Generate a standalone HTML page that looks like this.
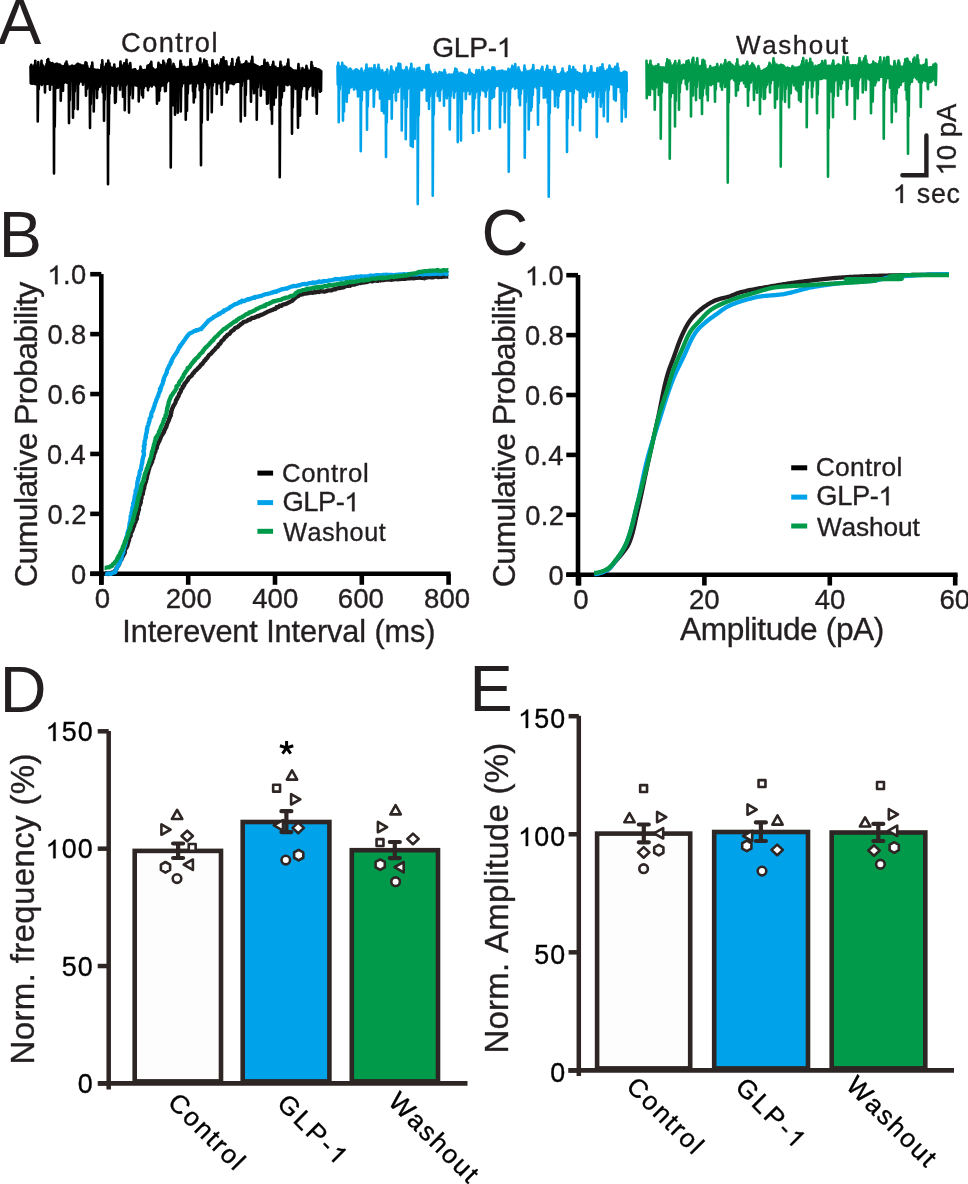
<!DOCTYPE html>
<html><head><meta charset="utf-8"><title>figure</title>
<style>
html,body{margin:0;padding:0;background:#fff;}
body{width:968px;height:1184px;overflow:hidden;}
svg{display:block;will-change:transform;}
text{font-family:"Liberation Sans",sans-serif;font-kerning:none;}
</style></head><body>
<svg width="968" height="1184" viewBox="0 0 968 1184">
<rect x="0" y="0" width="968" height="1184" fill="#ffffff"/>
<polyline points="30.5,66.48 30.75,83.22 31,83.34 31.25,64.82 31.5,66.44 31.75,83.46 32,83.59 32.25,66.38 32.5,66.42 32.75,83.65 33,83.49 33.25,66.51 33.5,67.08 33.75,83.37 34,83.42 34.25,67.93 34.5,64.86 34.75,83.72 35,83.92 35.25,60.68 35.5,64.95 35.75,84.17 36,84.14 36.25,69.85 36.5,69.81 36.75,84.12 37,83.89 37.25,69.71 37.5,65.71 37.75,121.4 38,100.44 38.25,62.17 38.5,65.52 38.75,89.19 39,83.21 39.25,69.36 39.5,68.8 39.75,83.27 40,83.35 40.25,68.41 40.5,68.32 40.75,83.3 41,82.79 41.25,64.7 41.5,60.76 41.75,84.93 42,83.57 42.25,64.67 42.5,67.35 42.75,83.39 43,83.4 43.25,65.72 43.5,67.23 43.75,83.14 44,82.99 44.25,68.98 44.5,68.54 44.75,82.83 45,92.5 45.25,67.91 45.5,67.36 45.75,84.35 46,83.77 46.25,67.07 46.5,63.94 46.75,83.48 47,83.78 47.25,60.14 47.5,63.21 47.75,83.73 48,83.37 48.25,59.05 48.5,62.79 48.75,82.86 49,82.15 49.25,64.53 49.5,62.03 49.75,81.35 50,89.74 50.25,64.23 50.5,65.06 50.75,83.88 51,81.36 51.25,63.35 51.5,64.72 51.75,80.34 52,84.57 52.25,64.57 52.5,63.04 52.75,81.53 53,80.21 53.25,64.4 53.5,65.77 53.75,80.05 54,173.5 54.25,65.94 54.5,65.16 54.75,126.77 55,101.75 55.25,64.4 55.5,64 55.75,88.37 56,82.48 56.25,63.82 56.5,63.82 56.75,81.67 57,81.34 57.25,64.23 57.5,63.82 57.75,80.68 58,87.71 58.25,65.25 58.5,65.99 58.75,83.2 59,82.64 59.25,65.11 59.5,64.66 59.75,81.44 60,81.42 60.25,64.77 60.5,65.54 60.75,100.72 61,88.99 61.25,66.6 61.5,67.72 61.75,84.34 62,83.08 62.25,67.03 62.5,66.36 62.75,90.12 63,90.7 63.25,66.15 63.5,66.28 63.75,83.14 64,81.94 64.25,66.82 64.5,67.37 64.75,81.7 65,81.65 65.25,65.25 65.5,63.25 65.75,81.94 66,82.16 66.25,64.42 66.5,61.58 66.75,82.52 67,82.67 67.25,64.28 67.5,67.38 67.75,82.62 68,82.27 68.25,67.37 68.5,67.16 68.75,81.81 69,123.1 69.25,66.74 69.5,66.53 69.75,100.27 70,88.06 70.25,66.72 70.5,67.37 70.75,81.52 71,81 71.25,66.38 71.5,65.78 71.75,80.99 72,80.74 72.25,65.66 72.5,65.92 72.75,80.38 73,117.7 73.25,66.21 73.5,66.23 73.75,97.15 74,108.71 74.25,66.14 74.5,66.05 74.75,91.52 75,84.56 75.25,66.24 75.5,66.46 75.75,81.6 76,80.29 76.25,65.54 76.5,64.75 76.75,79.64 77,79.51 77.25,64.14 77.5,63.78 77.75,109.23 78,91.17 78.25,63.78 78.5,64.1 78.75,83.95 79,81.05 79.25,64.44 79.5,64.71 79.75,80.03 80,80.62 80.25,64.74 80.5,65 80.75,81.13 81,81.43 81.25,65.41 81.5,66.21 81.75,81.18 82,80.6 82.25,65.99 82.5,65.69 82.75,80.16 83,84.59 83.25,65.63 83.5,66.09 83.75,82.32 84,81.54 84.25,66.91 84.5,67.78 84.75,81.52 85,82.28 85.25,64.92 85.5,62.31 85.75,82.81 86,95.7 86.25,65.3 86.5,62.75 86.75,86.47 87,88.63 87.25,65.75 87.5,68.98 87.75,85.17 88,85.88 88.25,69.63 88.5,69.34 88.75,85.1 89,85.3 89.25,68.87 89.5,68.95 89.75,90.27 90,128 90.25,69.5 90.5,70 90.75,104.2 91,91.45 91.25,69.27 91.5,65.92 91.75,84.62 92,83.54 92.25,62.58 92.5,66.09 92.75,90.53 93,86.35 93.25,69.95 93.5,69.88 93.75,111.46 94,94.94 94.25,69.44 94.5,69.47 94.75,88.29 95,85.64 95.25,69.69 95.5,70.01 95.75,84.56 96,85.01 96.25,70.07 96.5,69.99 96.75,85.59 97,98.04 97.25,69.72 97.5,69.72 97.75,89.6 98,86.18 98.25,69.96 98.5,70.06 98.75,85.45 99,86.75 99.25,70.22 99.5,70.25 99.75,86.8 100,84.73 100.25,70.03 100.5,70.07 100.75,84.07 101,83.24 101.25,69.29 101.5,64.52 101.75,83.26 102,83.57 102.25,60.25 102.5,64.45 102.75,92.12 103,86.44 103.25,67.65 103.5,68.53 103.75,84.11 104,120.7 104.25,69.06 104.5,68.09 104.75,99.82 105,88.68 105.25,67.63 105.5,66.22 105.75,83.61 106,83.99 106.25,63.79 106.5,66.28 106.75,84.07 107,84.2 107.25,68.91 107.5,64.52 107.75,84.08 108,184.2 108.25,60.49 108.5,64.78 108.75,134.2 109,107.62 109.25,66.21 109.5,63.19 109.75,93.43 110,85.85 110.25,66.49 110.5,67.73 110.75,84.36 111,83.85 111.25,67.91 111.5,68.19 111.75,84.45 112,84.99 112.25,68.28 112.5,68.38 112.75,85.4 113,85.58 113.25,68.33 113.5,67.32 113.75,85.75 114,85.59 114.25,64.52 114.5,67.08 114.75,85.19 115,102.84 115.25,68.56 115.5,69.01 115.75,102.02 116,90.74 116.25,69.6 116.5,69.69 116.75,86.2 117,84.24 117.25,69.01 117.5,68.65 117.75,83.36 118,83.18 118.25,68.54 118.5,68.74 118.75,83.17 119,82.92 119.25,68.97 119.5,68.76 119.75,82.72 120,89.72 120.25,64.97 120.5,61.61 120.75,85.26 121,83.41 121.25,64.91 121.5,65.61 121.75,83.08 122,83.11 122.25,67.15 122.5,68.36 122.75,82.81 123,96.8 123.25,68.62 123.5,65.88 123.75,88.04 124,84.5 124.25,63.36 124.5,65.88 124.75,110.3 125,94.17 125.25,67.89 125.5,67.26 125.75,85.52 126,82.41 126.25,63.97 126.5,59.86 126.75,82.94 127,83.4 127.25,63.97 127.5,66.4 127.75,83.42 128,82.73 128.25,68.59 128.5,68.71 128.75,86.52 129,112.58 129.25,68.88 129.5,65.94 129.75,94.86 130,87.68 130.25,63.01 130.5,66.11 130.75,84.9 131,84.08 131.25,69.6 131.5,69.79 131.75,84.34 132,84.62 132.25,70.04 132.5,70.3 132.75,98.3 133,88.45 133.25,69.93 133.5,69.59 133.75,84.75 134,84.94 134.25,69.26 134.5,69.24 134.75,84.91 135,84.7 135.25,69.39 135.5,70 135.75,84.95 136,85.47 136.25,70.68 136.5,71.17 136.75,85.58 137,85.5 137.25,71.79 137.5,71.68 137.75,85.24 138,85.52 138.25,71.27 138.5,70.9 138.75,101.37 139,91.8 139.25,70.96 139.5,70.99 139.75,87.87 140,87.27 140.25,68.96 140.5,66.45 140.75,87.6 141,87.4 141.25,68.78 141.5,70.61 141.75,87.06 142,95.05 142.25,70.47 142.5,70.47 142.75,88.6 143,97.5 143.25,70.47 143.5,70.34 143.75,88.03 144,84.48 144.25,70.19 144.5,70.17 144.75,85.06 145,85.46 145.25,70.15 145.5,70.02 145.75,85.53 146,85.98 146.25,69.79 146.5,69.82 146.75,84.66 147,83.89 147.25,67.65 147.5,65.86 147.75,83.27 148,90.22 148.25,67.18 148.5,65.2 148.75,87.15 149,84.58 149.25,67.21 149.5,66.41 149.75,84.25 150,84.62 150.25,63.68 150.5,65.33 150.75,84.98 151,84.95 151.25,61.69 151.5,65.51 151.75,86.46 152,85.02 152.25,67.99 152.5,68.06 152.75,84.91 153,84.66 153.25,68.58 153.5,69.12 153.75,84.03 154,84.17 154.25,69.9 154.5,70.63 154.75,84.55 155,84.17 155.25,70.45 155.5,69.99 155.75,85.1 156,86.26 156.25,69.73 156.5,69.5 156.75,86.92 157,103.68 157.25,69.42 157.5,69.49 157.75,92.29 158,87.68 158.25,66.65 158.5,62.86 158.75,92.27 159,100.5 159.25,66.61 159.5,68.86 159.75,90.92 160,90.12 160.25,66.77 160.5,64.76 160.75,86.61 161,85.06 161.25,67.44 161.5,70.19 161.75,84.92 162,85.25 162.25,70.25 162.5,65.32 162.75,85.52 163,85.32 163.25,60.91 163.5,64.65 163.75,84.8 164,83.62 164.25,62.86 164.5,65.5 164.75,82.31 165,91.26 165.25,68.53 165.5,67.91 165.75,90.93 166,84.91 166.25,66.87 166.5,65.9 166.75,82.43 167,81.18 167.25,65 167.5,63.44 167.75,81.1 168,80.74 168.25,60.2 168.5,62.73 168.75,80.46 169,80.23 169.25,59.28 169.5,62.56 169.75,80.09 170,80.02 170.25,59.84 170.5,62.91 170.75,167.4 171,123.75 171.25,66.73 171.5,66.67 171.75,100.59 172,88.26 172.25,66.59 172.5,66.8 172.75,105.26 173,90.76 173.25,65.43 173.5,63.86 173.75,96.51 174,88.14 174.25,65.99 174.5,68.18 174.75,84.41 175,114.7 175.25,68.5 175.5,68.93 175.75,96.68 176,93.43 176.25,69.02 176.5,69.16 176.75,86.94 177,84.5 177.25,69.48 177.5,69.28 177.75,112.82 178,94.92 178.25,69.03 178.5,68.98 178.75,87.76 179,84.89 179.25,69.16 179.5,69.53 179.75,84.53 180,86.57 180.25,64.91 180.5,60.88 180.75,111.5 181,95.03 181.25,63.84 181.5,66.45 181.75,86.29 182,83.43 182.25,69.2 182.5,68.54 182.75,83.28 183,83.13 183.25,67.7 183.5,67.08 183.75,82.77 184,82.47 184.25,66.87 184.5,67.12 184.75,83.06 185,83.21 185.25,67.59 185.5,68.27 185.75,119.7 186,99.02 186.25,68.19 186.5,67.75 186.75,87.96 187,110.74 187.25,67.27 187.5,67.11 187.75,93.35 188,86.28 188.25,67.06 188.5,67.2 188.75,83.63 189,83.56 189.25,67.28 189.5,67.41 189.75,83.52 190,83.29 190.25,63.29 190.5,59.34 190.75,82.86 191,82.25 191.25,63.21 191.5,66.95 191.75,81.67 192,81.27 192.25,66.94 192.5,67.05 192.75,81.86 193,91.13 193.25,67.11 193.5,67.04 193.75,102.55 194,89.65 194.25,67 194.5,67.35 194.75,84.58 195,97.5 195.25,67.66 195.5,67.39 195.75,86.7 196,82.78 196.25,66.77 196.5,66.55 196.75,82.95 197,82.4 197.25,66.72 197.5,67.26 197.75,81.39 198,80.41 198.25,66.28 198.5,65.41 198.75,83.47 199,81.57 199.25,64.75 199.5,62.33 199.75,90.2 200,84.31 200.25,58.46 200.5,62.51 200.75,82.07 201,165.2 201.25,65.48 201.5,65.48 201.75,122.73 202,100.09 202.25,65.45 202.5,65.37 202.75,87.97 203,81.61 203.25,65.39 203.5,63.14 203.75,80.98 204,81.38 204.25,59.49 204.5,63.4 204.75,81.61 205,81.66 205.25,66.14 205.5,66.98 205.75,81.84 206,82.36 206.25,64.33 206.5,60.98 206.75,82.62 207,85.23 207.25,64.59 207.5,68.24 207.75,119.7 208,99.34 208.25,68.01 208.5,67.85 208.75,88.43 209,84.43 209.25,67.9 209.5,68.08 209.75,83.21 210,82.62 210.25,68.41 210.5,68.71 210.75,82.36 211,82.44 211.25,68.88 211.5,68.3 211.75,112.3 212,94.96 212.25,64.14 212.5,60.35 212.75,85.68 213,82.42 213.25,63.84 213.5,66.14 213.75,82.1 214,81.81 214.25,66.01 214.5,65.95 214.75,81.25 215,81.46 215.25,66.03 215.5,66.35 215.75,81.64 216,81.81 216.25,66.85 216.5,66.13 216.75,94.05 217,86.06 217.25,64.88 217.5,66.07 217.75,82.88 218,82.44 218.25,67.03 218.5,66.87 218.75,83.05 219,83.3 219.25,66.69 219.5,66.5 219.75,83.01 220,82.14 220.25,66.15 220.5,62.84 220.75,81.04 221,87.96 221.25,59.42 221.5,62.52 221.75,104.7 222,89.88 222.25,65.12 222.5,62.74 222.75,81.9 223,80.09 223.25,59.72 223.5,57.22 223.75,80.22 224,79.98 224.25,61.16 224.5,65.34 224.75,79.58 225,79.44 225.25,65.48 225.5,63.41 225.75,79.81 226,80.06 226.25,61.38 226.5,63.61 226.75,92.55 227,84.84 227.25,66.32 227.5,66.41 227.75,81.9 228,89.39 228.25,66.7 228.5,66.72 228.75,83.96 229,81.87 229.25,66.76 229.5,67.2 229.75,81.29 230,81.15 230.25,67.61 230.5,67.56 230.75,81.63 231,83.31 231.25,67.52 231.5,63 231.75,82.75 232,83.38 232.25,58.94 232.5,63.17 232.75,83.68 233,83.76 233.25,67.05 233.5,67 233.75,84.2 234,83.46 234.25,67.47 234.5,68.04 234.75,82.79 235,81.76 235.25,67.05 235.5,66.68 235.75,81.49 236,81.88 236.25,66.7 236.5,63.26 236.75,81.94 237,81.66 237.25,59.65 237.5,62.9 237.75,81.51 238,81.67 238.25,61.91 238.5,57.51 238.75,81.69 239,81.49 239.25,61.29 239.5,64.77 239.75,80.85 240,79.38 240.25,64.78 240.5,64.82 240.75,121.4 241,98.34 241.25,64.79 241.5,64.84 241.75,85.99 242,79.58 242.25,64.9 242.5,64.93 242.75,78.66 243,80.15 243.25,64.83 243.5,64.4 243.75,80.71 244,80.16 244.25,63.92 244.5,63.89 244.75,78.95 245,115.7 245.25,64.06 245.5,62.72 245.75,94.88 246,83.63 246.25,61.18 246.5,62.58 246.75,79.03 247,78.67 247.25,63.73 247.5,63.73 247.75,78.14 248,77.71 248.25,63.7 248.5,63.66 248.75,77.67 249,78.13 249.25,63.82 249.5,64.32 249.75,78.86 250,79.32 250.25,65.09 250.5,64.79 250.75,90.04 251,101.7 251.25,64.47 251.5,60.65 251.75,88.13 252,81.05 252.25,56.8 252.5,61.18 252.75,79.73 253,79.74 253.25,64.7 253.5,64.55 253.75,83.16 254,93.16 254.25,64.53 254.5,64.58 254.75,85.51 255,82.63 255.25,64.96 255.5,65.42 255.75,81.57 256,81.12 256.25,65.66 256.5,65.99 256.75,119.7 257,98.62 257.25,66.14 257.5,66.28 257.75,87.36 258,82.99 258.25,66.56 258.5,66.81 258.75,81.73 259,81.67 259.25,67.2 259.5,67.39 259.75,81.63 260,81.43 260.25,67.46 260.5,67.15 260.75,95.7 261,85.51 261.25,66.73 261.5,66.42 261.75,82.16 262,82.57 262.25,66.22 262.5,66.26 262.75,82.5 263,82.07 263.25,66.26 263.5,66.39 263.75,88.64 264,83.65 264.25,63.14 264.5,59.89 264.75,89.4 265,83.84 265.25,63.03 265.5,65.46 265.75,81.58 266,80.63 266.25,65.04 266.5,64.98 266.75,82.71 267,103.7 267.25,64.61 267.5,62.77 267.75,89.78 268,103.22 268.25,64.88 268.5,66.87 268.75,89.78 269,84.48 269.25,67.1 269.5,67.21 269.75,82.39 270,81.67 270.25,67.42 270.5,67.87 270.75,97.42 271,109.43 271.25,68.03 271.5,67.89 271.75,92.88 272,123.7 272.25,67.71 272.5,64.8 272.75,101.3 273,89.45 273.25,61.82 273.5,65.29 273.75,104.71 274,91.61 274.25,67.83 274.5,68.32 274.75,86.47 275,84.53 275.25,68.15 275.5,66.81 275.75,97.4 276,88.91 276.25,68.24 276.5,69.17 276.75,85.6 277,84.3 277.25,68.98 277.5,68.63 277.75,84.28 278,84.42 278.25,68.35 278.5,68.48 278.75,84.23 279,83.67 279.25,68.83 279.5,69.57 279.75,177.3 280,130.38 280.25,65.49 280.5,61.8 280.75,105.18 281,91.64 281.25,65.23 281.5,68.13 281.75,97.48 282,92.35 282.25,68.32 282.5,68.4 282.75,86.39 283,85.2 283.25,68.22 283.5,67.79 283.75,84.62 284,90.7 284.25,67.31 284.5,66.93 284.75,84.65 285,83 285.25,66.72 285.5,66.7 285.75,82.28 286,83.06 286.25,66.92 286.5,67.14 286.75,83.96 287,84.78 287.25,67.49 287.5,63.67 287.75,85.14 288,84.98 288.25,59.51 288.5,63.83 288.75,84.49 289,83.84 289.25,67.71 289.5,67.78 289.75,83 290,82.92 290.25,67.94 290.5,68.29 290.75,84.09 291,84.99 291.25,68.71 291.5,69.09 291.75,85.47 292,133.7 292.25,69.74 292.5,70.48 292.75,107.6 293,93.66 293.25,70.46 293.5,70.89 293.75,86.32 294,85.31 294.25,70.86 294.5,70.62 294.75,84.89 295,85.26 295.25,70.55 295.5,70.7 295.75,88.85 296,86.94 296.25,70.94 296.5,70.89 296.75,87.23 297,87.34 297.25,70.84 297.5,71 297.75,102.5 298,127.7 298.25,67.73 298.5,64.11 298.75,105.04 299,92.94 299.25,67.85 299.5,71.68 299.75,86.97 300,115.61 300.25,71.26 300.5,71.12 300.75,97.72 301,90.41 301.25,71.02 301.5,71.26 301.75,89.36 302,87.02 302.25,70.03 302.5,68.11 302.75,85.98 303,85.63 303.25,69.87 303.5,71.13 303.75,85.71 304,85.77 304.25,70.59 304.5,70.24 304.75,85.86 305,85.9 305.25,70.21 305.5,69.64 305.75,86.03 306,86.11 306.25,67.93 306.5,65.91 306.75,99.1 307,89.36 307.25,68.44 307.5,71.17 307.75,86.41 308,89.19 308.25,71.05 308.5,70.95 308.75,86.8 309,86.71 309.25,71 309.5,71.24 309.75,86.33 310,85.72 310.25,70.92 310.5,70.45 310.75,85.05 311,84.31 311.25,66.01 311.5,61.97 311.75,84.26 312,84.56 312.25,65.51 312.5,67.88 312.75,95.7 313,87.1 313.25,70.56 313.5,69.8 313.75,84.26 314,86.47 314.25,68.97 314.5,68.48 314.75,84.87 315,84.15 315.25,68.24 315.5,68.24 315.75,97.21 316,89.11 316.25,68.45 316.5,68.84 316.75,113.7 317,96.83 317.25,69.23 317.5,69.4 317.75,87.92 318,85.87 318.25,69.44 318.5,69.42 318.75,86.33 319,86.48 319.25,69.69 319.5,69.93 319.75,86.49 320,91.79 320.25,70.39 320.5,70.94 320.75,87.83 321,90.99 321.25,71.26" fill="none" stroke="#000000" stroke-width="2.6" stroke-linejoin="round" stroke-linecap="round"/>
<polyline points="337.5,65.92 337.75,84.37 338,84.68 338.25,62.86 338.5,65.83 338.75,122.3 339,100.89 339.25,66.6 339.5,66.77 339.75,89.42 340,84.39 340.25,67.72 340.5,68.98 340.75,83.91 341,83.43 341.25,67.9 341.5,66 341.75,83.41 342,83.6 342.25,62.73 342.5,66.37 342.75,84.04 343,120.6 343.25,68.93 343.5,70.68 343.75,100.77 344,111.53 344.25,68.16 344.5,65.92 344.75,95.55 345,89.23 345.25,68.61 345.5,69.23 345.75,86.83 346,85.93 346.25,67.25 346.5,69.53 346.75,101.7 347,91.11 347.25,71.87 347.5,71.75 347.75,85.83 348,85.85 348.25,71.36 348.5,70.58 348.75,92.98 349,88.77 349.25,69.6 349.5,68.75 349.75,86.95 350,87.3 350.25,68.59 350.5,68.86 350.75,87.37 351,87.24 351.25,69.8 351.5,70.75 351.75,86.71 352,85.93 352.25,71.45 352.5,71.94 352.75,85.8 353,86.09 353.25,71.96 353.5,71.91 353.75,86.26 354,89.57 354.25,71.35 354.5,70.61 354.75,87.04 355,86.08 355.25,70.08 355.5,69.54 355.75,85.96 356,85.85 356.25,69.35 356.5,69.63 356.75,89.1 357,86.89 357.25,69.83 357.5,70.2 357.75,86.17 358,96.5 358.25,70.43 358.5,70.78 358.75,89.96 359,88.52 359.25,71.27 359.5,71.67 359.75,87.33 360,87.49 360.25,71.89 360.5,71.89 360.75,151.2 361,118.07 361.25,70.55 361.5,68.55 361.75,100.4 362,90.99 362.25,70.81 362.5,73.17 362.75,88.11 363,88.69 363.25,73.26 363.5,73.02 363.75,89.19 364,89.39 364.25,72.88 364.5,73.21 364.75,89.62 365,89.77 365.25,71.64 365.5,69.98 365.75,89.92 366,89.41 366.25,68.81 366.5,64.51 366.75,88.23 367,129.7 367.25,68.64 367.5,73.48 367.75,106.57 368,94.2 368.25,72.91 368.5,72.46 368.75,89.02 369,87.93 369.25,70.65 369.5,68.52 369.75,89.07 370,87.09 370.25,70.26 370.5,70.61 370.75,87.23 371,87.7 371.25,68.93 371.5,68.29 371.75,87.79 372,87.81 372.25,70.04 372.5,70.92 372.75,87.59 373,87.01 373.25,70.36 373.5,70.16 373.75,106.79 374,102.4 374.25,68.17 374.5,64.99 374.75,91.33 375,86.59 375.25,68.12 375.5,70.36 375.75,85.77 376,85.99 376.25,70.23 376.5,70.28 376.75,86.4 377,86.7 377.25,70.52 377.5,70.97 377.75,89.55 378,87.19 378.25,68.09 378.5,64.82 378.75,86.56 379,86.64 379.25,68.38 379.5,70.98 379.75,87.03 380,98.36 380.25,70.99 380.5,71.53 380.75,92.4 381,88.94 381.25,72.28 381.5,71.68 381.75,110.7 382,96.66 382.25,70.42 382.5,72.12 382.75,89.27 383,88.29 383.25,73.24 383.5,73.42 383.75,106.43 384,113.21 384.25,73.8 384.5,74.3 384.75,98.43 385,92.61 385.25,73.48 385.5,72.15 385.75,90.34 386,157 386.25,73.8 386.5,72.44 386.75,122.54 387,104.02 387.25,69.67 387.5,72.63 387.75,94.93 388,91.58 388.25,75.74 388.5,76.08 388.75,98.9 389,93.19 389.25,75.7 389.5,75.6 389.75,90.85 390,98.42 390.25,75.79 390.5,70.82 390.75,92.74 391,93.95 391.25,66.59 391.5,70.49 391.75,118.71 392,100.4 392.25,72.61 392.5,70.37 392.75,93 393,89.83 393.25,72.16 393.5,72.51 393.75,88.34 394,87.4 394.25,72.1 394.5,72.13 394.75,87.24 395,86.98 395.25,72.38 395.5,72.7 395.75,98.3 396,100.58 396.25,70.09 396.5,67.78 396.75,91.93 397,88.19 397.25,69.82 397.5,72.29 397.75,86.79 398,91.72 398.25,67.7 398.5,63.62 398.75,87.85 399,86.25 399.25,67.34 399.5,67.63 399.75,85.72 400,85.36 400.25,63.98 400.5,67.63 400.75,85.68 401,86.08 401.25,69.85 401.5,69.89 401.75,130.5 402,106.48 402.25,70.37 402.5,70.99 402.75,93.59 403,86.98 403.25,71.39 403.5,71.28 403.75,86.06 404,85.46 404.25,70.78 404.5,70.32 404.75,98.65 405,90.7 405.25,69.81 405.5,70.14 405.75,139.3 406,111.31 406.25,69.48 406.5,67.06 406.75,107.07 407,94.22 407.25,69.43 407.5,71.61 407.75,89.04 408,86.97 408.25,71.53 408.5,71.87 408.75,86.7 409,86.57 409.25,72.25 409.5,72.34 409.75,86.48 410,86.4 410.25,72.31 410.5,67.69 410.75,145.7 411,114.84 411.25,63.71 411.5,66.58 411.75,98.48 412,89.71 412.25,69.48 412.5,71.59 412.75,147 413,115.57 413.25,72.03 413.5,70.68 413.75,98.92 414,89.97 414.25,68.84 414.5,70.79 414.75,138.7 415,111.37 415.25,72.95 415.5,73.11 415.75,96.72 416,88.86 416.25,73.17 416.5,73 416.75,88.25 417,88.26 417.25,70.66 417.5,68.51 417.75,204.1 418,146.32 418.25,70.61 418.5,70.14 418.75,115.36 419,98.79 419.25,67.73 419.5,70.08 419.75,89.85 420,86.48 420.25,71 420.5,72.05 420.75,86.64 421,86.45 421.25,72.39 421.5,71.59 421.75,86.16 422,90.19 422.25,71.01 422.5,71.01 422.75,87.71 423,86.72 423.25,71.41 423.5,71.88 423.75,87.5 424,87.14 424.25,72.36 424.5,72.52 424.75,87.44 425,87.35 425.25,72.49 425.5,72.27 425.75,87.26 426,87.08 426.25,68.93 426.5,65.41 426.75,100.78 427,92.62 427.25,69.28 427.5,73.84 427.75,89.45 428,88.7 428.25,68.93 428.5,64.88 428.75,88.96 429,109.05 429.25,69.39 429.5,72.68 429.75,96.44 430,91.46 430.25,71.2 430.5,72.91 430.75,89.48 431,88.77 431.25,74.89 431.5,74.79 431.75,88.53 432,88.72 432.25,74.62 432.5,74.51 432.75,195.8 433,142.89 433.25,74.42 433.5,74.49 433.75,114.65 434,99.53 434.25,74.48 434.5,74.49 434.75,91.39 435,88.62 435.25,73.84 435.5,72.54 435.75,88.95 436,89.1 436.25,73.66 436.5,75.13 436.75,89.1 437,88.81 437.25,75.09 437.5,74.9 437.75,96.1 438,91.25 438.25,74.73 438.5,74.78 438.75,95 439,89.01 439.25,73.35 439.5,72.13 439.75,100.74 440,93.03 440.25,73.24 440.5,73.5 440.75,89.88 441,88.59 441.25,72.98 441.5,72.72 441.75,88.08 442,87.87 442.25,72.69 442.5,72.93 442.75,87.98 443,88.1 443.25,73.12 443.5,73.88 443.75,88.13 444,105.7 444.25,71.95 444.5,69.8 444.75,94.55 445,89.32 445.25,72.3 445.5,74.71 445.75,89.96 446,90.42 446.25,75.37 446.5,75.46 446.75,98.32 447,92.82 447.25,75.65 447.5,75.42 447.75,90.8 448,90.2 448.25,74.98 448.5,74.72 448.75,95.07 449,91.83 449.25,74.55 449.5,74.81 449.75,129.4 450,107.86 450.25,75.01 450.5,75.01 450.75,96.27 451,89.98 451.25,74.84 451.5,74.77 451.75,89.75 452,89.54 452.25,74.67 452.5,74.78 452.75,89.41 453,89.35 453.25,75.03 453.5,75.17 453.75,89.54 454,97.81 454.25,74.8 454.5,71.8 454.75,92.28 455,90.23 455.25,68.67 455.5,71.45 455.75,90.13 456,90.03 456.25,71.9 456.5,69.23 456.75,89.8 457,89.53 457.25,71.5 457.5,73.52 457.75,142.1 458,113.75 458.25,73.76 458.5,74.07 458.75,98.57 459,90.47 459.25,74.31 459.5,73.75 459.75,89.17 460,89.54 460.25,73.22 460.5,72.87 460.75,89.76 461,140.4 461.25,72.84 461.5,73.11 461.75,113.15 462,98.64 462.25,73.33 462.5,73.44 462.75,90.93 463,90.93 463.25,73.78 463.5,74.32 463.75,91.07 464,90.84 464.25,75.25 464.5,75.45 464.75,90.21 465,89.41 465.25,74.77 465.5,74.94 465.75,98.99 466,93.36 466.25,75.7 466.5,76.05 466.75,91.09 467,90.3 467.25,75.67 467.5,75.57 467.75,90.26 468,90.03 468.25,75.68 468.5,73.94 468.75,89.84 469,89.59 469.25,71.85 469.5,69.57 469.75,94.23 470,91.37 470.25,72.55 470.5,74.38 470.75,90.32 471,89.83 471.25,74.02 471.5,73.88 471.75,89.68 472,89.6 472.25,74.07 472.5,74.52 472.75,108.07 473,133 473.25,75.27 473.5,75.83 473.75,109.51 474,96.93 474.25,75.47 474.5,75.16 474.75,90.48 475,98.01 475.25,75.33 475.5,75.63 475.75,92.5 476,90.43 476.25,72.57 476.5,69.93 476.75,90.11 477,89.74 477.25,72.22 477.5,73.19 477.75,89.53 478,89.66 478.25,71.9 478.5,72.29 478.75,130.8 479,107.75 479.25,70.08 479.5,72.04 479.75,95.34 480,90.66 480.25,74.17 480.5,74.17 480.75,88.71 481,87.96 481.25,73.41 481.5,72.6 481.75,88.17 482,88.03 482.25,70.21 482.5,67.04 482.75,90.35 483,87.97 483.25,69.75 483.5,72.78 483.75,86.93 484,86.98 484.25,72.28 484.5,72.33 484.75,91.7 485,87.2 485.25,72.23 485.5,72.04 485.75,96.69 486,90.11 486.25,71.75 486.5,71.7 486.75,90.37 487,87.4 487.25,71.87 487.5,71.81 487.75,86.24 488,85.77 488.25,70.75 488.5,70.18 488.75,85.59 489,85.41 489.25,70.37 489.5,71.2 489.75,128.7 490,105.59 490.25,72.22 490.5,71.39 490.75,93.15 491,86.49 491.25,71.27 491.5,71.94 491.75,86.9 492,98.19 492.25,69.53 492.5,67.32 492.75,90.71 493,87.71 493.25,69.66 493.5,69.83 493.75,86.8 494,96.7 494.25,67.54 494.5,69.68 494.75,88.42 495,85.68 495.25,71.58 495.5,71.36 495.75,85.64 496,85.76 496.25,71.46 496.5,71.88 496.75,85.84 497,85.54 497.25,72.11 497.5,71.92 497.75,85.44 498,85.73 498.25,71.62 498.5,71.17 498.75,85.88 499,86.2 499.25,71.07 499.5,71.06 499.75,86.56 500,127.2 500.25,71.57 500.5,72.21 500.75,104.86 501,92.95 501.25,71.27 501.5,70.64 501.75,88.44 502,88.34 502.25,70.47 502.5,70.75 502.75,90.51 503,87.87 503.25,71.42 503.5,71.83 503.75,86.86 504,86.44 504.25,71.8 504.5,71.66 504.75,122.3 505,102.31 505.25,71.5 505.5,71.91 505.75,91.78 506,87.72 506.25,72.45 506.5,72.4 506.75,87.15 507,86.51 507.25,71.78 507.5,71.43 507.75,85.89 508,86.05 508.25,70.49 508.5,68.78 508.75,171.8 509,128.41 509.25,70.15 509.5,70.74 509.75,105.24 510,92.75 510.25,70.33 510.5,70.49 510.75,88.28 511,87.88 511.25,70.8 511.5,68.32 511.75,87.25 512,86.74 512.25,65.7 512.5,68.25 512.75,86.22 513,85.92 513.25,70.79 513.5,70.81 513.75,85.91 514,85.83 514.25,70.97 514.5,67.39 514.75,85.6 515,88.76 515.25,64.08 515.5,67.65 515.75,86.61 516,86.05 516.25,70.21 516.5,70.25 516.75,86.92 517,87.48 517.25,70.59 517.5,71.51 517.75,87.86 518,88.2 518.25,69.56 518.5,67.29 518.75,88.07 519,98.3 519.25,69.9 519.5,71.43 519.75,90.52 520,105.27 520.25,71.91 520.5,72.47 520.75,93.92 521,89.47 521.25,72.99 521.5,73 521.75,87.7 522,87.74 522.25,72.83 522.5,72.66 522.75,88.24 523,88.3 523.25,72.63 523.5,72.99 523.75,87.78 524,86.65 524.25,69.09 524.5,65.67 524.75,157.7 525,121.67 525.25,69.22 525.5,72.53 525.75,102.34 526,92.03 526.25,73.1 526.5,72.99 526.75,89.64 527,89.28 527.25,72.04 527.5,71.63 527.75,88.85 528,89.28 528.25,71.34 528.5,71.45 528.75,129.4 529,106.48 529.25,71.34 529.5,71.08 529.75,94.14 530,87.85 530.25,70.72 530.5,70.62 530.75,94.34 531,110.34 531.25,70.82 531.5,71.23 531.75,107 532,94.59 532.25,71.58 532.5,68.66 532.75,95.11 533,89.52 533.25,64.97 533.5,68.38 533.75,87.29 534,86.31 534.25,71.65 534.5,71.56 534.75,85.73 535,85.56 535.25,71.72 535.5,71.73 535.75,85.83 536,86.05 536.25,71.13 536.5,70.58 536.75,87.96 537,85.99 537.25,70.39 537.5,70.39 537.75,85.14 538,124.7 538.25,70.63 538.5,70.81 538.75,102.94 539,91.31 539.25,70.98 539.5,71.08 539.75,85.83 540,85.37 540.25,71.08 540.5,70.77 540.75,84.9 541,84.79 541.25,70.55 541.5,68.73 541.75,85.01 542,85.66 542.25,66.74 542.5,68.94 542.75,86.1 543,86.27 543.25,71.28 543.5,71.72 543.75,97.74 544,90.38 544.25,72.02 544.5,72.23 544.75,87.53 545,86.4 545.25,72.27 545.5,72.46 545.75,97.24 546,90.51 546.25,72.4 546.5,68.84 546.75,87.77 547,86.73 547.25,65.76 547.5,69.12 547.75,102.64 548,92.93 548.25,71.11 548.5,70.95 548.75,196.7 549,142.46 549.25,70.24 549.5,71.12 549.75,113.35 550,97.81 550.25,69.97 550.5,71.55 550.75,89.57 551,88.92 551.25,72.5 551.5,72.83 551.75,88.53 552,87.8 552.25,72.8 552.5,72.56 552.75,87.15 553,87.59 553.25,72.49 553.5,69.99 553.75,87.84 554,90.05 554.25,66.84 554.5,67.2 554.75,88.42 555,106.28 555.25,70.4 555.5,73.74 555.75,95.17 556,90.8 556.25,74.09 556.5,74.21 556.75,89.48 557,89.99 557.25,74.31 557.5,74.31 557.75,89.99 558,107.51 558.25,74.37 558.5,74.62 558.75,96.01 559,91.37 559.25,74.85 559.5,74.87 559.75,89.55 560,91.7 560.25,74.34 560.5,73.47 560.75,89.29 561,89.45 561.25,72.52 561.5,72.07 561.75,89.56 562,89.22 562.25,71.64 562.5,68.59 562.75,88.56 563,88.41 563.25,71.49 563.5,74.21 563.75,88.61 564,88.31 564.25,73.42 564.5,73.45 564.75,88.16 565,88.73 565.25,73.73 565.5,74.23 565.75,89.12 566,88.99 566.25,74.04 566.5,74.01 566.75,88.76 567,152 567.25,73.29 567.5,72.39 567.75,118.58 568,100.63 568.25,71.93 568.5,71.96 568.75,90.95 569,87.9 569.25,69.36 569.5,66.09 569.75,87.54 570,86.9 570.25,69.18 570.5,73 570.75,90.98 571,88.26 571.25,72.86 571.5,72.75 571.75,87.12 572,87.37 572.25,73.04 572.5,69.82 572.75,125.1 573,104.29 573.25,67.05 573.5,69.99 573.75,93.09 574,87.65 574.25,70.52 574.5,71.35 574.75,87.3 575,87.25 575.25,69.71 575.5,71.78 575.75,87.31 576,87.78 576.25,73.94 576.5,74.39 576.75,88.4 577,88.94 577.25,73.27 577.5,72.22 577.75,89.56 578,89.73 578.25,73.41 578.5,73.8 578.75,89.81 579,89.84 579.25,73.58 579.5,73.4 579.75,89.63 580,130.5 580.25,73.56 580.5,73.92 580.75,107.86 581,95.75 581.25,74.31 581.5,74.73 581.75,97.15 582,91.86 582.25,75.03 582.5,74.39 582.75,89.92 583,89.79 583.25,73.48 583.5,72.65 583.75,95.52 584,98.1 584.25,69.8 584.5,65.65 584.75,92.16 585,89.74 585.25,69.82 585.5,72.71 585.75,88.85 586,101.7 586.25,73.44 586.5,74.04 586.75,96.15 587,91.32 587.25,74.32 587.5,73.88 587.75,90.18 588,90.44 588.25,73.36 588.5,72.83 588.75,90.11 589,89.59 589.25,72.61 589.5,73.14 589.75,89.16 590,92.25 590.25,73.89 590.5,70.13 590.75,89.76 591,88.82 591.25,66.25 591.5,70.09 591.75,88.75 592,88.52 592.25,74.04 592.5,73.55 592.75,96.58 593,95.66 593.25,73.15 593.5,72.93 593.75,91.12 594,89.43 594.25,72.95 594.5,72.98 594.75,88.65 595,88.51 595.25,73.21 595.5,73.48 595.75,88.21 596,88.71 596.25,73.64 596.5,73.45 596.75,137.1 597,111.24 597.25,71.25 597.5,68.16 597.75,97.29 598,89.9 598.25,71.03 598.5,72.38 598.75,89.71 599,89.53 599.25,72.08 599.5,70.59 599.75,89.46 600,88.98 600.25,67.19 600.5,70.25 600.75,106.81 601,95 601.25,72.85 601.5,72.88 601.75,90.15 602,94.76 602.25,68.66 602.5,64.35 602.75,101.99 603,92.61 603.25,68.24 603.5,72.93 603.75,116.14 604,98.03 604.25,72.26 604.5,71.66 604.75,90.58 605,87.5 605.25,71.41 605.5,71.51 605.75,87.4 606,87.64 606.25,71.91 606.5,71.07 606.75,87.93 607,87.67 607.25,70.15 607.5,69.7 607.75,121.4 608,101.02 608.25,69.65 608.5,69.75 608.75,89.9 609,84.52 609.25,67.86 609.5,65.48 609.75,83.96 610,83.56 610.25,67.58 610.5,69.32 610.75,83.59 611,83.94 611.25,69.16 611.5,69.06 611.75,84.26 612,84.39 612.25,69.19 612.5,69.19 612.75,84.14 613,83.88 613.25,69.29 613.5,69.26 613.75,83.45 614,99.19 614.25,69.47 614.5,68.36 614.75,90.03 615,86.45 615.25,66.76 615.5,68.7 615.75,100.73 616,90.99 616.25,70.72 616.5,71.41 616.75,87.36 617,86.01 617.25,67.3 617.5,63.91 617.75,85.57 618,85.79 618.25,67.88 618.5,72.15 618.75,86.38 619,86.93 619.25,72.83 619.5,72.82 619.75,87.06 620,86.98 620.25,72.75 620.5,73.12 620.75,92.32 621,89.18 621.25,73.41 621.5,73.77 621.75,121.4 622,102.46 622.25,73.6 622.5,73.09 622.75,92.21 623,87.92 623.25,72.62 623.5,72.14 623.75,88.18 624,88.53 624.25,71.89 624.5,71.59 624.75,108.7 625,95.5 625.25,71.85 625.5,72.18 625.75,116.87 626,98.74 626.25,72.3 626.5,72.38 626.75,91.38" fill="none" stroke="#00a3e9" stroke-width="2.6" stroke-linejoin="round" stroke-linecap="round"/>
<polyline points="646.5,60.74 646.75,98.2 647,86.86 647.25,64.15 647.5,66.44 647.75,94.7 648,85.03 648.25,65.25 648.5,66.86 648.75,80.58 649,81.41 649.25,67.35 649.5,67.41 649.75,85.73 650,94.84 650.25,64.46 650.5,60.87 650.75,86.64 651,83.1 651.25,64.69 651.5,66.08 651.75,83.07 652,86.02 652.25,66.03 652.5,66.19 652.75,89.08 653,89.12 653.25,67 653.5,68.47 653.75,84.11 654,82.05 654.25,69.45 654.5,67.92 654.75,109.7 655,93.58 655.25,66.8 655.5,66.19 655.75,84.85 656,87.5 656.25,66.09 656.5,66.38 656.75,83.03 657,81.28 657.25,66.94 657.5,66.44 657.75,80.52 658,80.15 658.25,64.24 658.5,66.19 658.75,94.93 659,85.72 659.25,68.39 659.5,68.16 659.75,81.99 660,80.37 660.25,67.65 660.5,67.48 660.75,138.7 661,108.52 661.25,67.51 661.5,67.81 661.75,92.4 662,83.65 662.25,68.17 662.5,67.7 662.75,79.84 663,79.49 663.25,67.49 663.5,67.58 663.75,79.22 664,80.12 664.25,67.71 664.5,67.79 664.75,80.94 665,81.48 665.25,67.72 665.5,67.31 665.75,81.38 666,80.94 666.25,67.2 666.5,63.1 666.75,79.74 667,82.35 667.25,59.32 667.5,62.21 667.75,79.98 668,79.73 668.25,64.44 668.5,65.87 668.75,79.77 669,79.66 669.25,63.62 669.5,60.64 669.75,158.7 670,118.57 670.25,62.83 670.5,64.61 670.75,97.06 671,85.5 671.25,66.32 671.5,66.44 671.75,83.12 672,79.71 672.25,66.26 672.5,66.39 672.75,78.4 673,92.85 673.25,65.9 673.5,64.99 673.75,83.5 674,79.65 674.25,64.46 674.5,63.35 674.75,78.23 675,126.4 675.25,61.04 675.5,63.33 675.75,100.95 676,87.28 676.25,65.95 676.5,65.82 676.75,80.03 677,77.54 677.25,65.74 677.5,65.78 677.75,77.4 678,77.4 678.25,66.02 678.5,63.2 678.75,77.75 679,109.7 679.25,60.67 679.5,63.34 679.75,92.23 680,82.84 680.25,66.18 680.5,66.28 680.75,77.92 681,83.25 681.25,66.26 681.5,65.96 681.75,79.88 682,78.55 682.25,65.49 682.5,65.04 682.75,77.99 683,77.98 683.25,64.92 683.5,64.73 683.75,78.07 684,78.21 684.25,65.14 684.5,65.71 684.75,77.97 685,77.62 685.25,66.4 685.5,65.75 685.75,84.2 686,78.36 686.25,63.65 686.5,61.41 686.75,78.36 687,89.12 687.25,63.56 687.5,63.42 687.75,81.97 688,79.01 688.25,61.08 688.5,60.39 688.75,77.92 689,77.2 689.25,62.82 689.5,65.51 689.75,79.86 690,78.04 690.25,64.97 690.5,65.25 690.75,78.16 691,116.5 691.25,65.69 691.5,64.86 691.75,95.57 692,84.44 692.25,62.19 692.5,59.21 692.75,79.71 693,95.53 693.25,57.68 693.5,61.58 693.75,84.66 694,80.38 694.25,66.01 694.5,66.09 694.75,78.59 695,84.43 695.25,65.43 695.5,65.42 695.75,80.4 696,100.11 696.25,65.81 696.5,62.03 696.75,86.89 697,81.7 697.25,58.28 697.5,62.41 697.75,79.71 698,78.91 698.25,65.65 698.5,65.82 698.75,78.46 699,78.74 699.25,66.19 699.5,66.52 699.75,79.13 700,98.03 700.25,66.97 700.5,66.97 700.75,86.65 701,82.24 701.25,67.19 701.5,65.5 701.75,80.65 702,114 702.25,63.23 702.5,59.96 702.75,95.73 703,86.11 703.25,59.9 703.5,64.19 703.75,88.14 704,83.7 704.25,64.68 704.5,60.98 704.75,82.07 705,81.54 705.25,65.17 705.5,69.35 705.75,81.36 706,81.82 706.25,69.1 706.5,69.1 706.75,94.42 707,93.93 707.25,69.47 707.5,70.08 707.75,100.57 708,89.51 708.25,70.95 708.5,70.46 708.75,85.07 709,84.01 709.25,70.64 709.5,68.3 709.75,82.75 710,82.91 710.25,65.98 710.5,68.29 710.75,83.7 711,85.14 711.25,68.86 711.5,68.51 711.75,83.88 712,83.85 712.25,68.41 712.5,68.16 712.75,83.82 713,83.75 713.25,67.8 713.5,67.73 713.75,83.67 714,83.41 714.25,67.5 714.5,67.45 714.75,82.78 715,101.7 715.25,67.65 715.5,68.07 715.75,89.42 716,82.76 716.25,68.41 716.5,66.67 716.75,80.85 717,80.93 717.25,64.13 717.5,66.48 717.75,81.12 718,81.19 718.25,68.02 718.5,67.96 718.75,81.21 719,80.88 719.25,68.15 719.5,68.46 719.75,80.44 720,80.01 720.25,68.22 720.5,66.25 720.75,86.37 721,82.12 721.25,64.45 721.5,65.93 721.75,80.52 722,89.63 722.25,67.64 722.5,67.1 722.75,82.9 723,80.25 723.25,66.51 723.5,66.04 723.75,79.16 724,77.99 724.25,65.8 724.5,63.18 724.75,78.07 725,86.85 725.25,60.17 725.5,62.6 725.75,80.79 726,78.19 726.25,64.9 726.5,64.91 726.75,77.03 727,77.15 727.25,64.91 727.5,64.02 727.75,182.6 728,130.39 728.25,63.19 728.5,62.58 728.75,102.39 729,87.43 729.25,62.51 729.5,62.11 729.75,79.59 730,77.54 730.25,63.16 730.5,63.53 730.75,76.96 731,78.37 731.25,64.26 731.5,64.66 731.75,77.34 732,77.24 732.25,65.08 732.5,65.52 732.75,77.13 733,77.99 733.25,65.89 733.5,66.3 733.75,79.06 734,79.89 734.25,66.73 734.5,67.1 734.75,80.52 735,80.84 735.25,67.3 735.5,67.27 735.75,80.81 736,95.7 736.25,67.29 736.5,63.2 736.75,85.73 737,81.16 737.25,59.21 737.5,62.06 737.75,80.7 738,90.27 738.25,65.25 738.5,67.32 738.75,84.13 739,81.63 739.25,67.38 739.5,67.26 739.75,80.51 740,80.55 740.25,67.13 740.5,67.39 740.75,80.73 741,80.3 741.25,67.37 741.5,67.26 741.75,79.96 742,79.65 742.25,66.74 742.5,66.21 742.75,79.91 743,79.83 743.25,65.6 743.5,65.51 743.75,79.57 744,83.31 744.25,65.86 744.5,66.32 744.75,80.55 745,79.36 745.25,66.66 745.5,65.71 745.75,86.64 746,81.7 746.25,64.15 746.5,64.41 746.75,79.8 747,78.94 747.25,61.77 747.5,64.34 747.75,82.49 748,105.7 748.25,66.03 748.5,66.33 748.75,90.51 749,86.44 749.25,66.61 749.5,66.54 749.75,81.82 750,80 750.25,66.37 750.5,66.22 750.75,82.65 751,80.35 751.25,66.51 751.5,65.12 751.75,79.68 752,80.17 752.25,63.31 752.5,65.63 752.75,80.36 753,80.52 753.25,66.24 753.5,64.77 753.75,86.13 754,99.9 754.25,66.35 754.5,67.14 754.75,88.35 755,82.36 755.25,68.14 755.5,68.88 755.75,81.68 756,81.78 756.25,69.86 756.5,70.17 756.75,81.51 757,92.67 757.25,69.8 757.5,69.65 757.75,86.23 758,83.69 758.25,68.01 758.5,65.99 758.75,82.94 759,82.64 759.25,68.45 759.5,71.26 759.75,83.1 760,114 760.25,71.54 760.5,71.67 760.75,96.92 761,87.78 761.25,71.43 761.5,71.16 761.75,83.77 762,83.37 762.25,71.15 762.5,71.22 762.75,82.74 763,82.35 763.25,70.91 763.5,70.14 763.75,99.05 764,88.58 764.25,69.44 764.5,69.44 764.75,84.28 765,98.49 765.25,69.65 765.5,69.57 765.75,87.76 766,83.44 766.25,68.83 766.5,68.38 766.75,81.49 767,84.8 767.25,68.48 767.5,68.46 767.75,81.62 768,80.2 768.25,67.19 768.5,66.13 768.75,79.76 769,79.35 769.25,65.19 769.5,62.81 769.75,79.3 770,92.5 770.25,63.93 770.5,65.39 770.75,83.29 771,80.09 771.25,67.15 771.5,66.2 771.75,79.92 772,79.83 772.25,66 772.5,65.87 772.75,79.58 773,79.58 773.25,62.21 773.5,58.34 773.75,79.52 774,79.23 774.25,62.15 774.5,66.48 774.75,78.78 775,107.78 775.25,65.92 775.5,65.35 775.75,89.96 776,82.74 776.25,64.73 776.5,64.51 776.75,79.86 777,99.1 777.25,64.81 777.5,65.34 777.75,86.69 778,80.07 778.25,66.13 778.5,66.94 778.75,78.82 779,78.82 779.25,66.34 779.5,65.61 779.75,78.84 780,78.91 780.25,65.2 780.5,64.95 780.75,166.6 781,122.92 781.25,64.83 781.5,65.04 781.75,99.75 782,87.35 782.25,65.28 782.5,65.33 782.75,81.72 783,79.96 783.25,65.47 783.5,65.93 783.75,79.45 784,79.18 784.25,66.5 784.5,67.27 784.75,88.92 785,101.7 785.25,67.86 785.5,68.35 785.75,88.91 786,82.19 786.25,68.32 786.5,68.09 786.75,85.05 787,82.17 787.25,67.68 787.5,67.59 787.75,82.04 788,82.29 788.25,67.9 788.5,68.14 788.75,82.42 789,107.33 789.25,68.4 789.5,68.59 789.75,91.28 790,84.9 790.25,68.59 790.5,68.7 790.75,93.3 791,84.87 791.25,68.77 791.5,69.06 791.75,81.91 792,81.82 792.25,67.72 792.5,66.14 792.75,81.9 793,82.18 793.25,67.71 793.5,68.37 793.75,82.47 794,85.31 794.25,67.89 794.5,67.73 794.75,82.54 795,82.21 795.25,67.7 795.5,67.77 795.75,81.6 796,89.24 796.25,67.83 796.5,67.8 796.75,83.9 797,81.7 797.25,67.69 797.5,67.54 797.75,90.97 798,84.39 798.25,67.4 798.5,67.24 798.75,81.76 799,99.9 799.25,66.93 799.5,66.75 799.75,87.89 800,81.23 800.25,66.48 800.5,66.82 800.75,101.7 801,88.48 801.25,67.3 801.5,64.22 801.75,81.33 802,79.17 802.25,61.13 802.5,62.46 802.75,84.3 803,80.69 803.25,58.01 803.5,61.97 803.75,79.3 804,79.64 804.25,67.01 804.5,66.58 804.75,79.85 805,79.88 805.25,65.89 805.5,65.57 805.75,79.99 806,80 806.25,63.13 806.5,60.27 806.75,127.2 807,101.69 807.25,63.21 807.5,66.89 807.75,88.13 808,80.85 808.25,66.59 808.5,66.33 808.75,79.39 809,79.77 809.25,66.05 809.5,62.71 809.75,80.01 810,80.02 810.25,58.89 810.5,63.12 810.75,80.07 811,79.92 811.25,61.98 811.5,64.81 811.75,79.64 812,97.27 812.25,62.93 812.5,65.46 812.75,86.66 813,82.32 813.25,68.38 813.5,68.33 813.75,80.56 814,79.96 814.25,67.75 814.5,67.23 814.75,79.58 815,79.91 815.25,66.92 815.5,65.72 815.75,79.89 816,79.44 816.25,66.76 816.5,67.51 816.75,79.39 817,113.2 817.25,67.27 817.5,66.49 817.75,94.51 818,84.49 818.25,65.68 818.5,65.29 818.75,79.29 819,78.86 819.25,65.55 819.5,66.54 819.75,78.78 820,78.84 820.25,66.2 820.5,64.67 820.75,78.89 821,78.89 821.25,63.85 821.5,63.64 821.75,78.77 822,78.66 822.25,61.15 822.5,63.7 822.75,78.28 823,78 823.25,64.74 823.5,65.33 823.75,77.76 824,77.71 824.25,66.08 824.5,63.24 824.75,77.91 825,78.07 825.25,60.51 825.5,63.27 825.75,78.17 826,78.08 826.25,65.79 826.5,66.36 826.75,78.07 827,78.19 827.25,66.62 827.5,65.98 827.75,78.08 828,176.7 828.25,65.76 828.5,65.8 828.75,128.3 829,102.32 829.25,65.86 829.5,66.07 829.75,88.53 830,81.16 830.25,65.98 830.5,65.93 830.75,80.08 831,91.46 831.25,65.98 831.5,66.09 831.75,84.26 832,80.51 832.25,66.46 832.5,63.39 832.75,81.32 833,117.3 833.25,60.45 833.5,63.41 833.75,96.49 834,85.27 834.25,66.71 834.5,66.47 834.75,80.92 835,80.56 835.25,66.24 835.5,66.24 835.75,79.77 836,78.59 836.25,66.27 836.5,66.32 836.75,77.59 837,78.02 837.25,65.68 837.5,64.87 837.75,78.15 838,95.7 838.25,64.56 838.5,64.36 838.75,84.55 839,78.55 839.25,64.7 839.5,65.12 839.75,78.31 840,77.96 840.25,65.51 840.5,65.53 840.75,77.22 841,89.04 841.25,65.77 841.5,65.82 841.75,81.83 842,83.56 842.25,65.94 842.5,65.74 842.75,79.53 843,78.33 843.25,60.86 843.5,56.69 843.75,78.74 844,79.06 844.25,60.83 844.5,64.69 844.75,78.87 845,80.05 845.25,64.08 845.5,63.92 845.75,78.21 846,77.73 846.25,63.74 846.5,63.79 846.75,96.76 847,104.7 847.25,60.96 847.5,57.21 847.75,89.1 848,80.8 848.25,61.05 848.5,64.8 848.75,78.29 849,78.24 849.25,64.98 849.5,65.42 849.75,77.86 850,77.34 850.25,65.67 850.5,65.59 850.75,77.02 851,77.86 851.25,65.52 851.5,65.87 851.75,78.51 852,85.87 852.25,65.55 852.5,65.32 852.75,81.42 853,78.97 853.25,65.26 853.5,65.8 853.75,78.05 854,77.69 854.25,66.28 854.5,65.55 854.75,118.9 855,97.07 855.25,65.29 855.5,65.22 855.75,85.31 856,79.09 856.25,65.7 856.5,66.09 856.75,77.38 857,77.45 857.25,66.23 857.5,65.88 857.75,98.53 858,85.51 858.25,65.79 858.5,64.06 858.75,80.22 859,77.87 859.25,61.52 859.5,58.08 859.75,77.41 860,77.05 860.25,60.97 860.5,62.16 860.75,76.69 861,76.53 861.25,62.71 861.5,63.32 861.75,76.36 862,77.04 862.25,63.72 862.5,63.76 862.75,92.5 863,81.71 863.25,63.82 863.5,60.87 863.75,75.89 864,75.04 864.25,58.41 864.5,60.68 864.75,74.65 865,75.42 865.25,59.44 865.5,56.05 865.75,90.01 866,81.12 866.25,59.71 866.5,63.61 866.75,77.67 867,77.01 867.25,63.85 867.5,64.18 867.75,77.31 868,77.85 868.25,64.54 868.5,65.13 868.75,78.64 869,79.28 869.25,65.36 869.5,65.25 869.75,79.75 870,79.94 870.25,65.06 870.5,65.01 870.75,80.21 871,113.2 871.25,64.89 871.5,64.97 871.75,94.34 872,84.37 872.25,65.48 872.5,63.99 872.75,101.54 873,87.69 873.25,61.52 873.5,64.05 873.75,82 874,80.79 874.25,63.51 874.5,65.06 874.75,80.4 875,85.23 875.25,64.92 875.5,63.22 875.75,80.69 876,82.39 876.25,64.75 876.5,64.6 876.75,79.62 877,79.06 877.25,64.35 877.5,64.54 877.75,78.31 878,77.51 878.25,65.27 878.5,65.7 878.75,80.28 879,78.01 879.25,65.07 879.5,60.99 879.75,76.9 880,76.61 880.25,57.32 880.5,60.86 880.75,76.51 881,76.65 881.25,64.81 881.5,64.74 881.75,76.61 882,76.45 882.25,64.78 882.5,64.91 882.75,76.15 883,76.15 883.25,64.55 883.5,61.07 883.75,138.7 884,107.17 884.25,57.87 884.5,61.21 884.75,90.26 885,81.2 885.25,64.26 885.5,64.56 885.75,82.28 886,78.92 886.25,64.99 886.5,60.87 886.75,77.66 887,77.69 887.25,57.04 887.5,61.06 887.75,77.87 888,77.68 888.25,56.95 888.5,61.14 888.75,77.29 889,77.95 889.25,65.39 889.5,65.58 889.75,78.48 890,87.75 890.25,66.15 890.5,66.65 890.75,81.8 891,79.57 891.25,66.71 891.5,66.85 891.75,122.3 892,99.29 892.25,67.05 892.5,66.77 892.75,86.87 893,80.31 893.25,66.75 893.5,67.1 893.75,79.65 894,79.42 894.25,63.91 894.5,61.09 894.75,102.12 895,87.82 895.25,63.8 895.5,66.77 895.75,82.12 896,111.5 896.25,66.8 896.5,66.87 896.75,93.47 897,83.85 897.25,66.93 897.5,67.22 897.75,78.84 898,79.53 898.25,63.55 898.5,60.5 898.75,87.2 899,81.96 899.25,62.39 899.5,64.66 899.75,80.15 900,79.52 900.25,66.68 900.5,66.79 900.75,84.84 901,81.21 901.25,66.81 901.5,66.76 901.75,79.82 902,79.72 902.25,66.75 902.5,66.72 902.75,79.82 903,81.53 903.25,66.94 903.5,67.31 903.75,80.19 904,79.54 904.25,67.45 904.5,63.29 904.75,79.37 905,79.52 905.25,59.28 905.5,63.28 905.75,90.03 906,83.46 906.25,67.04 906.5,62.86 906.75,99.4 907,87.04 907.25,58.55 907.5,58.82 907.75,81.96 908,153.7 908.25,62.66 908.5,65.37 908.75,115.9 909,95.6 909.25,64.28 909.5,61.77 909.75,84.55 910,78.42 910.25,63.59 910.5,64.94 910.75,77.55 911,77.18 911.25,64.51 911.5,64.12 911.75,76.66 912,81.68 912.25,63.86 912.5,63.91 912.75,77.98 913,76.41 913.25,61.57 913.5,59 913.75,75.68 914,75.62 914.25,60.54 914.5,57.56 914.75,75.95 915,76.27 915.25,60.46 915.5,61.99 915.75,77.81 916,76.23 916.25,62.27 916.5,62.38 916.75,75.51 917,79.19 917.25,59.13 917.5,55.18 917.75,77.05 918,76.26 918.25,59.51 918.5,64.3 918.75,76.37 919,81.86 919.25,65.04 919.5,65.47 919.75,78.75 920,77.91 920.25,65.62 920.5,66.01 920.75,107.06 921,89.5 921.25,66 921.5,66.27 921.75,82.65 922,80.02 922.25,66.55 922.5,65.97 922.75,80.2 923,80.37 923.25,65 923.5,66.32 923.75,80.18 924,79.48 924.25,67.34 924.5,67.42 924.75,79.39 925,80.4 925.25,68.02 925.5,63.49 925.75,81.01 926,80.85 926.25,59.44 926.5,63.59 926.75,80.3 927,79.58 927.25,67.43 927.5,67.51 927.75,87.08 928,89.2 928.25,67.81 928.5,68.01 928.75,82.09 929,82.23 929.25,67.72 929.5,67.55 929.75,81.92 930,82.08 930.25,67.37 930.5,67.25 930.75,81.93 931,81.34 931.25,67.23 931.5,67.41 931.75,80.72 932,80.01 932.25,67.27 932.5,66.73 932.75,79.32 933,79 933.25,65.97 933.5,64.49 933.75,78.28 934,78.39 934.25,65.6 934.5,66.68 934.75,78.57 935,80.95 935.25,65.18 935.5,63.63 935.75,84.94 936,80.5 936.25,64.88" fill="none" stroke="#009a4a" stroke-width="2.6" stroke-linejoin="round" stroke-linecap="round"/>
<path d="M926.4 135.5 V175.2 H902.4" fill="none" stroke="#231f20" stroke-width="4.4" stroke-linecap="round" stroke-linejoin="miter"/>
<g transform="translate(121.02 51.83)"><text x="0" y="0" font-size="27.23" letter-spacing="1.45" fill="#231f20" stroke="#231f20" stroke-width="0.35">Control</text></g>
<g transform="translate(432.19 57.03)"><text x="0" y="0" font-size="28.11" letter-spacing="-0.24" fill="#231f20" stroke="#231f20" stroke-width="0.35">GLP- </text><path transform="translate(64.65 0) scale(28.11 -28.11)" d="M0.2847 0 L0.3726 0 L0.3726 0.688 L0.3154 0.688 Q0.2925 0.643 0.2373 0.596 Q0.1821 0.549 0.1084 0.516 L0.1084 0.4347 Q0.1494 0.449 0.2012 0.478 Q0.2529 0.507 0.2847 0.536 Z" fill="#231f20" stroke="#231f20" stroke-width="0.35" vector-effect="non-scaling-stroke"/></g>
<g transform="translate(736.09 53.95)"><text x="0" y="0" font-size="26.01" letter-spacing="1.58" fill="#231f20" stroke="#231f20" stroke-width="0.35">Washout</text></g>
<g transform="translate(892.86 202.94)"><text x="0" y="0" font-size="26.8" letter-spacing="0.77" fill="#231f20" stroke="#231f20" stroke-width="0.35">  sec</text><path transform="translate(0 0) scale(26.8 -26.8)" d="M0.2847 0 L0.3726 0 L0.3726 0.688 L0.3154 0.688 Q0.2925 0.643 0.2373 0.596 Q0.1821 0.549 0.1084 0.516 L0.1084 0.4347 Q0.1494 0.449 0.2012 0.478 Q0.2529 0.507 0.2847 0.536 Z" fill="#231f20" stroke="#231f20" stroke-width="0.35" vector-effect="non-scaling-stroke"/></g>
<g transform="translate(955.6 175.5) rotate(-90)"><text x="0" y="0" font-size="27.6" letter-spacing="-0.07" fill="#231f20" stroke="#231f20" stroke-width="0.35"> 0 pA</text><path transform="translate(0 0) scale(27.6 -27.6)" d="M0.2847 0 L0.3726 0 L0.3726 0.688 L0.3154 0.688 Q0.2925 0.643 0.2373 0.596 Q0.1821 0.549 0.1084 0.516 L0.1084 0.4347 Q0.1494 0.449 0.2012 0.478 Q0.2529 0.507 0.2847 0.536 Z" fill="#231f20" stroke="#231f20" stroke-width="0.35" vector-effect="non-scaling-stroke"/></g>
<text x="-2.13" y="44.2" font-size="64.8" fill="#231f20">A</text>
<text x="-1.32" y="257" font-size="64.8" fill="#231f20">B</text>
<text x="481.51" y="255.1" font-size="64.8" fill="#231f20">C</text>
<text x="-0.32" y="711.8" font-size="64.8" fill="#231f20">D</text>
<text x="469.48" y="710.9" font-size="64.8" fill="#231f20">E</text>
<line x1="101.3" y1="273.9" x2="101.3" y2="584.8" stroke="#000" stroke-width="4.6"/>
<line x1="90.2" y1="573.8" x2="450.6" y2="573.8" stroke="#000" stroke-width="4.6"/>
<line x1="90.2" y1="573.8" x2="101.3" y2="573.8" stroke="#000" stroke-width="4.6"/>
<line x1="90.2" y1="513.88" x2="101.3" y2="513.88" stroke="#000" stroke-width="4.6"/>
<line x1="90.2" y1="453.96" x2="101.3" y2="453.96" stroke="#000" stroke-width="4.6"/>
<line x1="90.2" y1="394.04" x2="101.3" y2="394.04" stroke="#000" stroke-width="4.6"/>
<line x1="90.2" y1="334.12" x2="101.3" y2="334.12" stroke="#000" stroke-width="4.6"/>
<line x1="90.2" y1="274.2" x2="101.3" y2="274.2" stroke="#000" stroke-width="4.6"/>
<line x1="101.4" y1="573.8" x2="101.4" y2="584.8" stroke="#000" stroke-width="4.6"/>
<line x1="188.2" y1="573.8" x2="188.2" y2="584.8" stroke="#000" stroke-width="4.6"/>
<line x1="275" y1="573.8" x2="275" y2="584.8" stroke="#000" stroke-width="4.6"/>
<line x1="361.8" y1="573.8" x2="361.8" y2="584.8" stroke="#000" stroke-width="4.6"/>
<line x1="448.6" y1="573.8" x2="448.6" y2="584.8" stroke="#000" stroke-width="4.6"/>
<polyline points="104.85,573.4 106.06,573.46 107.43,573.07 108.2,573.94 110.47,572.88 111.43,572.86 112.09,572.55 113.3,572.27 114.02,572.26 114.6,571.1 115.72,570.63 116.1,569.51 116.76,567.78 117.27,567.09 118.2,565.46 118.66,565.17 119.41,563.35 119.69,562.17 120.44,560.88 120.73,559.97 121.7,559.07 122.05,557.88 122.6,556.73 123.12,555.76 123.25,554.78 124.17,554.08 124.96,552.18 124.49,551.35 124.91,550.14 125.41,548.88 126.42,547.83 126.66,546.8 127.29,546.07 127.59,544.71 127.84,543.49 128.23,542.63 128.47,541.4 129.09,540.13 128.95,539.13 129.48,537.68 130,536.9 130.76,535.71 130.48,534.35 130.78,533 131.3,532.55 132.08,531.07 132.2,530.68 133.02,528.63 132.66,527.89 133.85,526.45 134.27,525.5 134.09,524.53 134.91,522.99 135.58,522.04 135.69,520.98 136.29,519.83 136.98,518.81 136.79,517.77 136.98,516.57 137.18,515.27 137.84,513.96 137.93,512.61 138.24,511.54 138.55,510.43 139.02,509.57 138.87,508.14 139.03,506.75 139.08,506.05 140.26,504.52 140.25,503.36 140.88,502.32 140.77,501.33 140.86,499.43 141.44,498.58 141.58,497.74 141.56,496.43 141.93,495.14 142.88,494.05 142.82,493.37 143.13,491.75 143.26,490.88 143.46,489.74 144.16,488.27 144.21,487.33 144.36,485.94 144.82,484.74 144.93,483.45 145.51,482.79 146.05,481.31 145.87,480.12 146.75,478.81 146.54,478.39 147.07,476.96 147.14,475.59 147.62,474.29 148.01,472.93 148.23,472.23 148.5,471.08 148.84,469.51 149.15,469 149.32,467.76 150,466.18 150.53,465.14 151.03,464.03 151.34,463.04 152.17,461.82 152.02,460.31 152.22,459.95 153.19,458.53 152.86,457.63 153.76,456.5 153.67,455 154.4,454 154.21,452.97 155.33,451.84 155.47,450.47 155.67,449.23 156.74,448.26 156.93,446.93 157.18,445.86 157.41,444.38 158.03,443.79 158.45,442.4 159.13,441.41 159.62,440.44 159.75,439.45 160.3,438.76 160.85,437.27 161.21,435.81 161.97,435.13 162.66,433.89 163.41,433.07 164.11,431.73 164.1,430.65 164.94,429.6 165.18,428.48 166.3,427.08 166.24,426.27 166.85,425.33 166.96,424.52 167.44,423.04 168.14,421.9 168.43,421.02 169.03,419.89 168.96,419.02 169.91,417.64 169.88,416.34 170.87,415.53 170.69,414.41 171.36,412.75 171.07,411.75 171.87,410.14 171.9,409.33 172.4,408.08 172.97,407.14 173.38,405.99 174.05,404.99 174.72,403.93 175.26,403.02 175.64,401.88 175.88,400.62 176.55,399.36 177.23,398.91 177.26,397.87 178.49,396.3 178.75,395.45 179.25,393.83 180.05,392.72 180.49,391.95 180.9,391.3 181.12,389.59 181.99,388.57 182.55,388.12 182.82,386.21 183.9,385.82 184.38,384.78 184.4,383.62 185.59,382.75 185.94,382.39 187.25,380.51 187.89,379.77 188.16,378.85 188.98,377.82 190,376.74 190.71,376.56 191.95,375.31 192.56,373.92 193.12,373.28 194.15,372.66 194.32,371.77 195.73,370.42 196.69,369.87 197.26,369.06 197.94,368.2 199.07,367.31 200.22,365.86 200.58,365.87 201.04,364.56 202.47,364.05 202.43,363.41 203.81,361.76 204.34,360.59 205.51,360.22 205.86,359.06 207.2,358.09 207.75,357.05 208.04,356.84 208.78,355.41 210,354.28 211.21,353.63 211.72,352.56 212.51,352 213.24,350.97 214.28,349.91 214.99,349.42 215.76,348.2 216.23,347.63 217.56,346.85 218.39,345.52 218.52,344.53 220.2,343.83 220.6,343.08 221.09,341.95 221.53,341.07 222.97,340.13 223.75,339.32 224.27,338.51 224.79,337.29 226.34,336.48 226.75,335.76 227.62,334.74 229.3,334.11 229.98,333.39 230.57,332.46 231.1,331.53 232.28,330.72 232.47,330.59 233.99,329.62 234.72,328.37 235.54,327.69 236.43,327.64 237.94,326.83 238.81,325.78 239.83,325.34 241,324 241.59,323.71 242.51,323.25 243.4,321.98 244.79,321.65 246.1,321.46 246.91,320.99 248.17,320.03 248.79,319.74 250.05,319.58 251.07,318.61 252.06,317.91 253.95,317.78 254.82,317.26 255.54,317.25 256.67,316.53 257.98,315.86 258.76,316.23 260.36,315.07 261.05,314.87 262.4,314.47 263.34,314.03 264.58,313.4 265.46,313.01 266.49,312.35 267.73,311.51 268.89,311.3 270.07,310.79 271.25,310.28 272.69,309.84 273.6,309.13 274.42,309.1 275.74,308.64 276.48,307.19 278.1,307.23 278.96,306.55 279.58,305.58 281.22,305.86 282.35,305.14 282.59,304.74 284.2,304.22 285.38,304.19 286.13,303.76 287.44,303.03 288.55,302.63 289.98,301.9 290.96,301.4 292.55,300.54 292.76,299.98 294.09,298.96 294.75,298.38 295.73,297.64 296.3,296.72 297.07,296.25 298.35,296.07 299.76,294.49 301.03,294.72 301.87,294.29 302.94,294.05 303.73,293.59 305.47,293.72 306.58,293.43 307.28,293.15 308.58,293.07 309.54,292.81 311.36,292.22 312.31,292.92 313.41,292.43 314.76,292.13 315.99,292.31 317.01,291.93 318.04,291.42 319.26,292.04 320.38,291.26 322.15,291.47 323.81,291.4 324.05,291.54 325.72,291.32 326.98,290.87 327.82,290.43 329.29,290.3 330.14,290.44 331.89,290.37 332.62,289.81 333.96,289.24 335.28,289.39 336.17,288.76 337,288.46 338.48,288.2 339.97,288.12 340.93,287.73 342.17,287.61 343.01,287.37 344.48,286.87 345.79,285.84 346.78,285.69 348.41,285.85 349.05,285.49 350.01,285.74 351.03,284.89 352.89,284.56 353.75,284.55 355.19,284.3 356.22,283.7 357.68,283.61 358.76,282.95 359.52,282.76 360.86,283.07 362.23,282.18 362.83,282.56 364.68,282.3 365.8,282.15 366.92,282.02 367.81,281.79 369.12,280.97 369.95,281.12 371.43,281.08 372.46,281.33 373.81,280.7 374.86,280.68 376.25,280.65 377.66,280.95 378.24,280.15 379.99,280.06 380.46,280.45 381.61,279.66 383.32,280.17 384.55,279.87 385.85,279.5 386.53,279.69 388.13,279.45 389.37,279.66 390.86,279.62 391.72,279.81 393.07,279.35 393.9,279.3 395.3,279.05 396.43,279.1 397.92,279.29 398.69,278.47 399.93,279.04 401.48,278.67 402.99,278.75 403.83,278.73 405.01,278.79 406.04,278.57 407.6,278.34 408.66,278.44 410.16,278.29 411,278.17 411.88,278.2 413.17,278.3 414.27,278.05 415.4,277.98 417.23,277.56 418.31,277.78 419,277.28 420.95,277.86 421.76,277.38 422.66,277.88 424.2,278.24 425.28,277.33 426.3,277.71 427.21,277.42 428.9,277.12 430.17,276.99 430.65,277.29 432.63,277.44 433.84,277.13 434.77,276.61 436.12,276.68 437.22,276.83 438.28,277.18 439.6,276.87 441.22,276.83 441.72,277.01 443.34,276.61 444.53,276.6 445.51,276.54 446.77,276.1 447.73,276.63 448.29,276.6" fill="none" stroke="#231f20" stroke-width="4.3" stroke-linejoin="round" stroke-linecap="butt"/>
<polyline points="105.21,573.4 105.43,573.49 107.48,573.72 108.49,573.59 109.69,573.59 110.84,573.86 111.37,573.42 112.74,573.23 113.47,572.6 115.36,572.13 115.37,570.99 115.97,569.86 116.67,568.31 117.19,567.11 117.65,566.32 118.33,564.97 119.04,564.22 119.33,563.11 120.08,561.65 120.21,560.68 120.68,559.53 121.45,558.84 121.58,557.89 121.68,556.05 122.11,554.9 122.64,553.16 123.32,552.61 123.11,551.39 123.44,549.97 124.08,549.28 123.93,547.54 124.39,546.72 124.99,545.65 125.21,544.14 125.38,543.5 125.81,542.39 125.21,540.61 126.44,539.43 126.22,538.76 126.31,537.43 127.06,535.97 127.42,535.02 127.39,533.89 127.49,532.71 128.02,531.78 128.26,530.5 128.88,529.67 128.96,528.4 129.07,527.05 129.55,525.98 129.46,524.86 129.52,523.53 130.14,521.87 130.37,521.22 130.41,519.84 130.5,519.05 130.98,517.49 130.53,516.42 131.55,515.2 131.73,514.36 131.43,512.8 132.08,511.51 132.05,510.48 132.71,509.11 132.23,508.08 132.74,506.86 133.38,505.75 133.71,504.99 133.11,503.23 133.75,502.16 134.17,500.92 134.16,499.96 134.93,498.31 134.45,497.26 135.05,496.24 134.92,495.21 135.75,493.88 135.61,492.58 135.74,491.31 135.62,490.48 136.69,489.53 136.69,488.07 136.91,486.86 137.24,485.74 137.27,484.22 137.26,483.2 137.46,482.04 137.7,481 138.49,479.75 138.05,478.28 138.53,477.7 138.88,476.67 139.3,475.01 139.67,474.01 139.5,472.81 139.67,471.77 140.39,470.04 140.97,469.64 141.14,467.95 141.28,467.22 141.41,465.75 141.81,464.46 141.93,463.35 142.42,462.44 142.24,460.82 142.67,459.76 142.8,458.55 143.14,457.06 143.23,456.63 143.97,455.26 143.86,453.92 144.01,453.02 143.27,451.29 143.83,450.32 143.89,449.57 144.31,448.19 143.74,446.19 144.74,444.72 144.84,444.1 144.39,443.43 144.61,441.85 144.8,440.72 145.17,439.74 145.48,438.18 146,437.27 145.62,436.23 146.05,434.97 146.11,433.78 146.73,432.36 146.72,431.46 147.13,430.06 146.8,429.33 147.31,428.48 147.47,426.49 148.36,424.97 148.48,424.25 148.58,423.29 148.88,422.31 149.47,421.16 149.52,419.55 149.82,418.4 150.52,417.76 151.37,416.03 151.05,415.43 151.34,413.96 151.57,413.08 151.92,411.93 152.78,410.81 153.26,409.69 153.46,408.11 153.95,407.3 154.31,406.11 154.73,405.05 154.74,404.16 155.42,402.66 155.99,401.42 156.18,400.29 156.68,399.27 157.01,398.41 157.54,396.89 158.25,396.25 158.33,394.91 158.79,393.64 159.43,392.23 159.77,391.49 160.42,390.46 159.86,388.7 160.97,388.3 161.02,387.27 161.55,385.8 162.11,384.69 162.55,384.03 162.93,382.6 163.09,380.93 163.85,380.01 163.77,378.84 164.21,377.71 164.85,376.03 164.93,375.69 166.03,374.22 166.18,373.31 166.91,372.12 166.82,371.27 167.19,369.89 167.81,368.67 168.44,367.91 168.61,367.04 169.36,365.52 169.78,364.86 170.72,363.5 170.69,362.23 171.67,361.67 171.81,360.01 172.3,359.4 172.94,357.97 173.41,357.15 174.34,355.68 175.16,354.74 175.56,354.18 176.29,352.93 177.17,351.88 177.46,350.75 178.08,349.96 178.6,348.49 178.92,347.53 180.16,346.72 180.19,345.49 181.46,344.46 181.97,343.56 182.95,342.48 183.35,341.41 183.87,340.85 184.89,339.67 185.4,338.74 186.26,337.47 187.09,336.43 187.84,335.32 188.64,334.76 189.32,333.55 190.34,333.2 190.74,332.88 192.16,332.51 192.92,331.83 194.62,330.93 195.82,330.86 196.21,330.14 197.92,330.13 199,329.46 199.85,329.2 201.23,329.05 201.89,327.94 202.43,327.5 203.64,326.09 204.48,325.04 205.35,324.52 205.82,323.68 207.11,322.21 208,321.52 208.44,320.38 209.49,319.96 210.59,319.52 211.44,318.59 213,317.79 213.62,316.91 214.32,316.7 215.4,316.17 216.61,315.48 218.23,314.77 218.65,313.77 219.77,313.91 220.91,312.85 221.81,312.21 223.43,311.82 223.76,310.49 225.1,310.39 225.99,309.75 227.13,309.25 227.72,308.86 229.49,308.01 230.05,306.81 231.13,306.57 231.93,306.1 233.03,305.49 234.41,304.55 235.58,303.89 236.58,303.9 237.77,303.32 238.73,302.74 239.64,301.84 240.94,302.27 241.99,300.69 242.93,300.92 244.26,301.14 245.54,300.21 246.42,299.94 247.42,299.24 248.84,299.54 250.29,298.54 250.93,298.6 252.12,298.25 253.27,297.63 254.78,297.8 255.18,296.9 256.89,296.77 258.26,296.61 258.92,296.18 260.65,296.07 261.56,295.84 262.44,295.21 263.78,294.82 264.5,294.5 265.9,294.21 267.66,294.18 268.13,293.6 269.97,293.44 270.65,292.99 272.07,292.48 272.99,292.58 273.57,291.78 275.15,291.71 276.49,291.75 277.31,290.77 278.41,290.69 279.98,289.96 280.88,289.87 281.76,289.24 283.15,289.14 284.68,288.71 285.49,288.5 286.98,288.49 288.27,287.81 289.05,287.57 289.91,287.08 291.03,286.76 292.51,286.35 293.9,285.85 294.92,286.07 296.16,286.22 297.08,285.69 298.45,285.21 299.43,285.53 300.64,284.79 301.58,284.52 302.69,284.16 304.15,284.02 305.18,284 306.4,284.36 307.99,283.61 308.98,283.21 310.93,283.13 311.62,283.04 312.42,282.49 313.96,282.77 315.05,282.74 315.98,282.47 317.62,282.37 318.34,281.72 318.96,281.45 321.11,282.03 321.95,281.82 323.67,280.99 324.33,281.26 325.38,281.05 327.25,281.02 327.79,280.77 329.29,280.43 330.79,280.44 331.65,280.26 332.79,280.05 334.02,279.43 335.4,278.98 336.17,279.36 337.72,278.99 338.9,279.29 340.53,279.25 341.05,278.97 342.1,278.65 343.7,278.6 344.61,278.72 345.97,278.09 347.13,278.35 348.58,278.15 349.31,277.89 350.65,278.04 351.22,277.36 352.83,277.63 354.63,277.03 355.27,276.94 356.46,276.74 357.52,277 359.17,276.54 360.26,276.67 361.11,276.27 362.77,276.72 363.86,276.81 365.18,276.32 366.03,276.59 367.82,276.24 368.68,276.57 369.75,275.98 370.84,275.49 372.11,276.19 373.58,275.72 374.5,275.42 376.03,275.46 377.11,275.15 378.49,275.46 379.56,275.17 380.54,275.75 381.28,275.49 383.03,274.86 384.35,274.84 385.39,275.02 386.69,274.63 387.63,275.04 388.86,275.01 389.92,274.78 391.69,274.79 392.59,275.01 393.63,275.2 394.62,275.17 396.11,274.77 397.71,274.93 398.67,274.5 399.57,274.75 401.31,274.37 402.51,274.75 403.6,274.23 404.75,274.26 406.04,274.47 407.09,274.57 408.34,274.04 409.15,274.23 410.92,274.37 411.8,274.36 413.45,274.06 413.64,274.26 415.52,274.14 416.79,274.53 417.66,274.29 419.06,273.79 420.33,273.54 421.49,274.09 422.41,274.33 423.71,274.05 425.2,274.2 426.46,273.83 427.37,273.58 428.56,274.09 429.79,273.9 431.2,274.02 431.88,273.48 433.01,273.85 434.57,273.63 435.46,273.97 436.79,273.6 438.16,273.57 439.46,273.56 440.27,274.01 441.94,273.68 442.5,273.47 444.28,273.39 444.95,273.37 446.22,273.98 447.9,273.15 448.4,273.39" fill="none" stroke="#00a3e9" stroke-width="4.3" stroke-linejoin="round" stroke-linecap="butt"/>
<polyline points="104.54,567.66 105.94,567.78 107.63,567.28 108.54,567.41 109.05,567.42 110.47,566.21 111.3,566.29 112.43,565.69 112.89,564.08 114.19,563.4 114.98,561.93 116.04,561.44 116.42,560.34 117.12,559.52 117.26,558.21 118.8,557.2 118.34,556.23 119.66,555.09 119.86,554.02 120.25,553.02 120.83,551.68 121.34,550.82 122.1,549.87 122.47,548.08 123.36,547.62 123.01,546.29 123.93,545.09 124.16,543.92 125.01,542.93 124.72,541.83 125.59,540.98 126.15,539.45 126.14,538.89 127.17,537.3 127.37,536.54 127.98,535.51 128.37,533.8 128.29,533.25 128.74,532.4 129.29,530.61 129.93,529.74 130.35,528.43 130.35,527.35 130.76,526.15 131.09,524.93 131.52,524.1 131.97,523 132.35,521.63 133.25,520.87 132.95,519.61 133.33,518.36 133.83,516.86 133.79,516.35 134.24,515.05 134.64,513.02 135.12,512.12 134.89,511.11 135.84,510.3 135.69,509.21 136.1,507.66 136.55,506.62 136.77,505.57 137.15,503.91 137.2,503.2 137.42,501.81 137.78,500.76 137.73,499.54 138.57,498.09 138.35,496.97 138.52,496.06 139.64,494.92 139.39,493.66 139.44,492.83 140.51,491.32 140.28,489.94 140.95,489.01 140.8,487.9 141.28,486.75 141.25,485.92 141.53,484.61 142.11,483.59 142.67,482.34 143.24,480.99 143.99,480.14 143.48,478.67 144.35,477.65 144.3,476.19 144.77,475.32 144.8,474.07 145.16,473.1 145.7,472.32 145.96,471.31 146.63,469.84 146.84,468.44 147.72,467.52 147.85,466.23 148.25,464.89 148.89,463.9 149.13,462.71 149.38,461.49 149.74,460.85 150.1,459.23 150.75,458.09 151.01,457.24 151.22,455.73 151.64,454.46 151.61,453.37 152.17,452.53 151.98,451.34 152.96,450.15 152.94,448.79 153.26,447.52 153.66,446.81 153.82,445.06 154.08,444.21 154.77,442.79 154.85,441.87 154.96,440.8 155.69,440.02 155.56,437.87 156.84,437.82 156.85,436.15 157.38,435.34 158.41,434.37 158.88,432.88 158.86,431.95 159.48,431 160.09,429.74 160.71,428.49 160.73,427.61 161.28,426.49 162.04,424.99 162.3,424.61 162.92,423.23 163.37,421.46 163.41,420.76 163.95,420.29 163.94,419.14 164.96,417.7 165.74,416.08 165.48,415.3 166.38,414.47 166.62,413.14 166.63,411.78 166.89,410.49 167.16,409.69 167.17,408.24 167.56,407.19 167.87,406.05 168.3,405.16 168.63,403.63 168.55,402.5 169.27,400.85 169.24,400.47 169.81,399.32 170.43,398.03 170.87,396.41 171.42,395.79 172.14,394.92 172.58,394.4 173.22,393 174,392.03 174.96,391.02 175.35,390.12 176.48,388.47 176.66,387.5 176.45,386.37 177.66,385.54 178.75,384.46 178.9,383.51 179.35,382.16 179.8,381.38 180.92,380.08 181.41,379.76 181.9,378.05 182.43,377.78 183.29,376.51 183.75,374.78 183.88,374.32 185.03,373.23 185.56,371.71 186.17,371.26 187.1,370.11 187.63,369.26 187.61,368 189.47,367.24 190.08,366.41 190.54,365.32 191.23,364.27 192.13,363.45 192.51,362.31 193.67,361.72 194.3,360.07 195.04,360.17 195.68,358.9 196.53,358.1 197.77,357.29 198.62,355.87 199.22,355.86 199.88,354.11 200.49,353.62 201.7,352.7 202.73,352.07 202.74,350.85 204.25,349.62 204.23,349.17 205.5,347.59 206.49,347.27 206.86,346.31 207.63,345.92 208.86,344.56 209.83,343.61 210.3,342.64 211.56,341.71 211.84,340.89 213.28,340.28 213.68,338.91 214.53,338.3 215.45,337.11 216.2,336.56 217.42,335.78 218.36,334.59 218.79,333.91 219.47,333.26 220.09,332.61 221.08,331.86 222.16,330.82 223.04,329.83 223.98,328.92 224.92,328.77 225.98,328.19 226.47,327.2 227.51,326.78 229.02,325.56 229.93,324.87 230.57,324.66 232.02,323.33 232.52,323.05 233.63,322.32 234.24,321.6 235.92,321.33 236.72,320.02 238.01,319.49 238.93,318.43 239.8,318.06 240.83,317.57 242.11,316.98 242.8,316.41 243.83,315.93 244.93,315.08 246.15,314.15 247.23,314.1 248.53,313.58 249.09,312.6 250.49,312.13 251.07,312.2 252.45,311.46 253.4,310.93 254.88,310.28 255.67,309.61 256.49,308.92 257.83,308.68 258.85,307.98 259.77,307.42 260.87,307.03 261.8,306.52 263.82,306.28 264.26,305.33 265.58,305.73 266.15,304.38 267.28,304.06 268.63,303.95 269.75,303.05 271.1,302.7 271.77,302.39 273.28,301.21 274.65,301.4 275.17,300.87 276.75,300.65 277.41,300.43 278.87,300.07 280.01,299.91 281.5,299.54 282.05,299.1 283.43,298.51 284.82,298.47 285.43,297.64 286.88,297.54 287.82,297.59 289,297.06 290.46,296.12 291.57,295.89 293.12,295.76 293.87,295.09 294.89,294.57 295.56,293.19 296.56,292.64 297.7,292.25 298.14,291.47 300.18,291.18 300.68,290.75 301.69,290.5 302.96,290.08 304.42,289.96 305.66,289.74 306.4,289.33 307.77,288.73 308.81,289.14 309.76,288.65 311.23,288.49 312.38,288.22 313.19,287.58 315.05,287.95 315.58,287.46 317.23,287.14 318.12,287.59 319.38,287.02 320.62,287 322.18,286.98 322.89,286.99 324.36,285.95 325.99,286.04 326.62,286.21 327.97,285.67 329.33,284.82 330.2,285.48 331.65,285.3 332.55,285.24 334.07,284.9 335.09,284.53 336.03,284.49 337.8,284.23 338.61,283.91 339.74,283.91 340.77,283.73 342.06,283.19 343.34,283.5 344.59,283.26 346.01,283.05 346.59,281.97 348.02,282.5 349.59,282.24 350.52,281.83 351.76,282.04 353.24,281.33 354.11,281.83 355.33,281.44 356.39,281.03 358.03,281.34 359.04,280.92 359.78,280.71 361.29,280.13 362.05,280.42 363.8,280.48 364.88,280.24 365.86,279.48 366.99,279.99 367.83,279.89 369.66,279.56 370.63,279.1 371.77,278.68 373.22,278.7 374.07,278.65 375.28,278.74 376.45,278.69 377.48,278.24 379.62,277.89 380.16,278.08 381.32,277.74 382.83,278.29 383.01,277.53 384.99,277.85 386.2,277.82 387.15,277.25 388.7,277.63 389.27,277.22 390.97,276.94 392.39,276.78 392.8,276.92 394.18,277.03 395.7,276.15 396.92,276.65 397.95,276.31 399.39,276.01 400.54,276.03 401.33,275.9 402.83,275.72 403.71,275.77 404.69,275.16 405.79,275.68 407.82,275.17 408.71,274.54 410.4,273.93 410.72,274.12 412.17,273.72 413.51,273.71 414.56,273.4 415.89,273.41 416.97,272.6 417.95,272.56 418.7,271.99 420.22,271.76 422.06,272.03 423,271.43 424.34,271.28 425.03,271.11 426.32,271.2 427.34,271.18 428.85,270.92 429.96,270.59 431.25,270.89 432.77,270.52 433.31,270.57 434.9,270.65 435.56,270.6 437.39,269.89 438.2,270.85 439.5,270.58 440.75,270.82 442.33,270.93 443.12,270.03 444.21,270.1 445.24,270.28 446.82,270.44 447.75,270.07 448.34,270.12" fill="none" stroke="#009a4a" stroke-width="4.3" stroke-linejoin="round" stroke-linecap="butt"/>
<line x1="578" y1="274.9" x2="578" y2="585.5" stroke="#000" stroke-width="4.6"/>
<line x1="566.3" y1="574.7" x2="957.6" y2="574.7" stroke="#000" stroke-width="4.6"/>
<line x1="566.3" y1="574.7" x2="578" y2="574.7" stroke="#000" stroke-width="4.6"/>
<line x1="566.3" y1="514.8" x2="578" y2="514.8" stroke="#000" stroke-width="4.6"/>
<line x1="566.3" y1="454.9" x2="578" y2="454.9" stroke="#000" stroke-width="4.6"/>
<line x1="566.3" y1="395" x2="578" y2="395" stroke="#000" stroke-width="4.6"/>
<line x1="566.3" y1="335.1" x2="578" y2="335.1" stroke="#000" stroke-width="4.6"/>
<line x1="566.3" y1="275.2" x2="578" y2="275.2" stroke="#000" stroke-width="4.6"/>
<line x1="579" y1="574.7" x2="579" y2="585.5" stroke="#000" stroke-width="4.6"/>
<line x1="704.4" y1="574.7" x2="704.4" y2="585.5" stroke="#000" stroke-width="4.6"/>
<line x1="829.8" y1="574.7" x2="829.8" y2="585.5" stroke="#000" stroke-width="4.6"/>
<line x1="955.2" y1="574.7" x2="955.2" y2="585.5" stroke="#000" stroke-width="4.6"/>
<polyline points="594.2,573.5 595.51,573.45 596.79,573.33 598.05,573.15 599.27,572.91 600.47,572.62 601.63,572.29 602.76,571.92 603.86,571.53 604.92,571.12 605.94,570.7 606.92,570.25 607.86,569.69 608.77,569.01 609.66,568.23 610.52,567.37 611.35,566.45 612.17,565.48 612.98,564.49 613.77,563.5 614.55,562.51 615.33,561.56 616.11,560.64 616.89,559.74 617.69,558.83 618.5,557.91 619.3,556.98 620.11,556.05 620.91,555.11 621.71,554.17 622.49,553.22 623.26,552.26 624.02,551.29 624.75,550.32 625.46,549.33 626.14,548.34 626.8,547.34 627.41,546.33 628,545.31 628.54,544.28 629.03,543.25 629.48,542.2 629.91,541.14 630.31,540.06 630.7,538.97 631.08,537.86 631.44,536.75 631.78,535.62 632.12,534.48 632.44,533.33 632.76,532.17 633.06,531.01 633.36,529.84 633.65,528.66 633.93,527.47 634.2,526.28 634.47,525.09 634.74,523.9 635,522.7 635.26,521.5 635.52,520.31 635.78,519.11 636.03,517.91 636.29,516.72 636.56,515.53 636.82,514.35 637.09,513.17 637.36,511.99 637.64,510.83 637.91,509.66 638.19,508.49 638.46,507.32 638.73,506.15 638.99,504.99 639.26,503.82 639.52,502.65 639.78,501.47 640.04,500.3 640.3,499.13 640.55,497.96 640.81,496.79 641.06,495.61 641.32,494.44 641.57,493.27 641.82,492.09 642.07,490.92 642.31,489.75 642.56,488.57 642.81,487.4 643.05,486.22 643.3,485.05 643.55,483.87 643.79,482.7 644.04,481.52 644.28,480.35 644.52,479.17 644.77,478 645.01,476.82 645.26,475.65 645.5,474.47 645.75,473.3 646,472.12 646.24,470.95 646.49,469.77 646.74,468.6 646.99,467.42 647.24,466.25 647.49,465.08 647.74,463.9 647.99,462.73 648.25,461.56 648.51,460.38 648.76,459.21 649.02,458.04 649.28,456.87 649.54,455.7 649.81,454.53 650.07,453.36 650.33,452.18 650.6,451.01 650.86,449.84 651.13,448.67 651.39,447.5 651.66,446.33 651.93,445.16 652.19,443.99 652.46,442.82 652.73,441.65 652.99,440.48 653.26,439.31 653.53,438.14 653.8,436.97 654.06,435.8 654.33,434.63 654.6,433.46 654.86,432.29 655.13,431.12 655.39,429.95 655.66,428.78 655.92,427.61 656.19,426.44 656.45,425.27 656.71,424.1 656.97,422.93 657.23,421.76 657.49,420.58 657.74,419.41 658,418.24 658.25,417.07 658.51,415.89 658.76,414.72 659.01,413.55 659.25,412.37 659.49,411.2 659.73,410.02 659.97,408.84 660.2,407.66 660.43,406.49 660.66,405.31 660.89,404.13 661.12,402.95 661.34,401.77 661.57,400.59 661.8,399.41 662.03,398.23 662.26,397.05 662.49,395.88 662.73,394.7 662.97,393.52 663.21,392.35 663.45,391.17 663.7,390 663.96,388.83 664.21,387.66 664.48,386.49 664.74,385.32 665.02,384.15 665.3,382.99 665.59,381.83 665.88,380.66 666.18,379.5 666.49,378.34 666.81,377.18 667.13,376.02 667.47,374.87 667.81,373.72 668.15,372.57 668.51,371.42 668.87,370.28 669.25,369.15 669.65,368.02 670.06,366.89 670.48,365.77 670.91,364.64 671.35,363.53 671.79,362.41 672.23,361.29 672.66,360.17 673.08,359.04 673.5,357.92 673.91,356.79 674.32,355.66 674.72,354.52 675.12,353.39 675.52,352.25 675.92,351.12 676.32,349.98 676.71,348.84 677.12,347.71 677.52,346.58 677.93,345.45 678.34,344.32 678.76,343.19 679.19,342.07 679.62,340.96 680.06,339.84 680.52,338.74 680.98,337.64 681.46,336.55 681.94,335.46 682.44,334.37 682.95,333.27 683.46,332.17 683.99,331.08 684.52,329.99 685.07,328.9 685.63,327.82 686.2,326.75 686.79,325.69 687.39,324.65 688.01,323.62 688.64,322.62 689.3,321.63 689.96,320.67 690.65,319.72 691.37,318.79 692.13,317.87 692.91,316.96 693.72,316.06 694.55,315.17 695.4,314.3 696.28,313.45 697.17,312.61 698.07,311.79 698.98,310.99 699.9,310.21 700.83,309.46 701.76,308.73 702.7,308.02 703.65,307.31 704.63,306.6 705.62,305.91 706.63,305.22 707.65,304.56 708.68,303.91 709.73,303.28 710.78,302.67 711.85,302.09 712.92,301.54 714,301.03 715.09,300.55 716.18,300.11 717.28,299.71 718.4,299.35 719.55,299.01 720.71,298.7 721.87,298.4 723.05,298.11 724.23,297.82 725.4,297.53 726.58,297.23 727.74,296.91 728.89,296.57 730.03,296.19 731.16,295.78 732.28,295.34 733.4,294.89 734.51,294.44 735.63,293.99 736.75,293.55 737.88,293.13 739.01,292.75 740.15,292.41 741.3,292.11 742.45,291.81 743.61,291.52 744.77,291.24 745.94,290.98 747.11,290.71 748.28,290.46 749.45,290.22 750.63,289.98 751.81,289.74 752.99,289.51 754.17,289.29 755.36,289.07 756.54,288.86 757.73,288.64 758.92,288.43 760.1,288.23 761.29,288.02 762.48,287.82 763.66,287.61 764.85,287.41 766.03,287.2 767.21,287 768.39,286.79 769.58,286.59 770.76,286.38 771.94,286.18 773.12,285.98 774.31,285.78 775.49,285.58 776.67,285.38 777.86,285.18 779.04,284.98 780.23,284.79 781.41,284.6 782.6,284.41 783.78,284.22 784.97,284.03 786.16,283.85 787.34,283.67 788.53,283.49 789.72,283.31 790.91,283.13 792.09,282.96 793.28,282.79 794.47,282.62 795.66,282.46 796.85,282.29 798.04,282.13 799.23,281.98 800.41,281.82 801.6,281.67 802.79,281.53 803.98,281.38 805.17,281.23 806.36,281.09 807.56,280.95 808.75,280.8 809.94,280.66 811.13,280.52 812.32,280.37 813.51,280.23 814.71,280.09 815.9,279.95 817.09,279.82 818.29,279.68 819.48,279.55 820.67,279.41 821.87,279.28 823.06,279.15 824.26,279.02 825.45,278.9 826.65,278.78 827.84,278.66 829.04,278.54 830.23,278.42 831.43,278.31 832.62,278.2 833.82,278.09 835.01,277.99 836.21,277.89 837.4,277.79 838.6,277.7 839.8,277.61 840.99,277.52 842.19,277.44 843.39,277.36 844.58,277.28 845.78,277.21 846.97,277.15 848.17,277.08 849.37,277.01 850.57,276.95 851.76,276.89 852.96,276.82 854.16,276.76 855.36,276.7 856.56,276.65 857.75,276.59 858.95,276.53 860.15,276.48 861.35,276.42 862.55,276.37 863.75,276.32 864.95,276.27 866.15,276.22 867.35,276.17 868.55,276.12 869.75,276.08 870.95,276.03 872.15,275.99 873.35,275.95 874.55,275.91 875.75,275.87 876.95,275.83 878.15,275.79 879.35,275.75 880.55,275.72 881.75,275.68 882.95,275.65 884.15,275.62 885.35,275.59 886.55,275.56 887.74,275.53 888.94,275.5 890.14,275.47 891.34,275.45 892.54,275.42 893.74,275.39 894.94,275.37 896.14,275.34 897.34,275.32 898.54,275.29 899.74,275.26 900.94,275.24 902.14,275.21 903.34,275.19 904.54,275.16 905.74,275.14 906.94,275.11 908.14,275.09 909.34,275.06 910.54,275.04 911.74,275.02 912.94,275 914.14,274.97 915.34,274.95 916.54,274.93 917.74,274.91 918.94,274.89 920.14,274.87 921.33,274.85 922.53,274.83 923.73,274.81 924.93,274.8 926.13,274.78 927.33,274.76 928.53,274.75 929.73,274.73 930.93,274.72 932.13,274.7 933.33,274.69 934.53,274.68 935.73,274.67 936.94,274.66 938.14,274.65 939.34,274.64 940.54,274.63 941.74,274.62 942.94,274.62 944.14,274.61 945.34,274.61 946.54,274.6 947.74,274.6 948.94,274.6 949,274.6" fill="none" stroke="#231f20" stroke-width="4.3" stroke-linejoin="round" stroke-linecap="butt"/>
<polyline points="594.2,574.2 595.5,574.08 596.77,573.91 598.02,573.67 599.23,573.38 600.42,573.05 601.57,572.67 602.69,572.26 603.77,571.83 604.81,571.37 605.82,570.89 606.78,570.4 607.71,569.8 608.62,569.11 609.49,568.32 610.35,567.46 611.17,566.54 611.98,565.57 612.77,564.58 613.53,563.57 614.28,562.56 615.01,561.56 615.73,560.59 616.44,559.64 617.14,558.68 617.85,557.71 618.54,556.72 619.23,555.72 619.91,554.71 620.58,553.7 621.23,552.67 621.87,551.63 622.5,550.59 623.11,549.54 623.7,548.48 624.27,547.42 624.81,546.35 625.34,545.27 625.83,544.2 626.3,543.12 626.75,542.03 627.17,540.94 627.59,539.85 628,538.74 628.39,537.63 628.78,536.51 629.15,535.39 629.52,534.25 629.88,533.12 630.23,531.98 630.57,530.83 630.91,529.68 631.24,528.52 631.56,527.36 631.88,526.2 632.19,525.03 632.49,523.86 632.8,522.69 633.09,521.52 633.39,520.34 633.68,519.16 633.96,517.98 634.25,516.8 634.53,515.62 634.81,514.44 635.09,513.26 635.37,512.08 635.65,510.9 635.93,509.72 636.21,508.55 636.49,507.37 636.77,506.2 637.05,505.03 637.34,503.86 637.62,502.7 637.91,501.53 638.19,500.37 638.46,499.2 638.73,498.03 639,496.86 639.26,495.69 639.52,494.52 639.77,493.34 640.03,492.17 640.28,491 640.53,489.82 640.77,488.64 641.02,487.47 641.27,486.29 641.51,485.12 641.75,483.94 641.99,482.76 642.24,481.59 642.48,480.41 642.72,479.23 642.97,478.06 643.21,476.88 643.46,475.71 643.71,474.53 643.96,473.36 644.21,472.18 644.47,471.01 644.73,469.84 644.99,468.67 645.26,467.5 645.53,466.33 645.8,465.16 646.08,464 646.36,462.83 646.65,461.67 646.94,460.51 647.24,459.35 647.54,458.19 647.85,457.04 648.17,455.88 648.49,454.73 648.81,453.57 649.14,452.42 649.48,451.27 649.81,450.12 650.15,448.97 650.5,447.82 650.85,446.67 651.2,445.52 651.56,444.38 651.91,443.23 652.27,442.08 652.64,440.94 653,439.79 653.37,438.65 653.73,437.51 654.1,436.36 654.47,435.22 654.84,434.08 655.22,432.93 655.59,431.79 655.96,430.65 656.33,429.51 656.7,428.37 657.08,427.22 657.45,426.08 657.82,424.94 658.19,423.8 658.55,422.66 658.92,421.51 659.28,420.37 659.65,419.22 660.01,418.08 660.37,416.93 660.73,415.79 661.09,414.64 661.45,413.49 661.81,412.34 662.16,411.2 662.52,410.05 662.88,408.9 663.24,407.75 663.6,406.6 663.96,405.46 664.32,404.31 664.69,403.16 665.05,402.02 665.42,400.87 665.79,399.73 666.16,398.59 666.53,397.44 666.91,396.3 667.29,395.16 667.67,394.03 668.05,392.89 668.44,391.75 668.83,390.62 669.23,389.49 669.63,388.36 670.03,387.23 670.44,386.1 670.85,384.98 671.27,383.86 671.69,382.74 672.11,381.62 672.55,380.51 672.98,379.4 673.43,378.29 673.88,377.18 674.35,376.08 674.83,374.98 675.31,373.89 675.81,372.8 676.31,371.7 676.81,370.62 677.33,369.53 677.85,368.45 678.37,367.36 678.89,366.28 679.42,365.2 679.95,364.12 680.49,363.04 681.02,361.96 681.55,360.89 682.08,359.81 682.6,358.73 683.13,357.65 683.65,356.56 684.16,355.47 684.66,354.37 685.16,353.26 685.65,352.15 686.14,351.04 686.63,349.92 687.12,348.8 687.62,347.68 688.11,346.56 688.6,345.45 689.11,344.34 689.61,343.24 690.13,342.14 690.65,341.05 691.19,339.97 691.73,338.91 692.29,337.85 692.86,336.81 693.45,335.79 694.06,334.78 694.68,333.79 695.32,332.82 695.98,331.86 696.68,330.93 697.42,330.02 698.21,329.13 699.03,328.25 699.88,327.39 700.76,326.54 701.65,325.71 702.56,324.89 703.46,324.08 704.37,323.29 705.27,322.51 706.19,321.75 707.12,321 708.06,320.26 709.02,319.53 709.98,318.82 710.96,318.11 711.94,317.4 712.92,316.71 713.9,316.01 714.89,315.32 715.87,314.63 716.85,313.94 717.83,313.23 718.8,312.51 719.78,311.78 720.75,311.06 721.74,310.34 722.72,309.63 723.72,308.94 724.72,308.27 725.73,307.63 726.75,307.02 727.78,306.45 728.83,305.93 729.89,305.44 730.97,304.97 732.05,304.51 733.15,304.06 734.26,303.63 735.38,303.21 736.51,302.79 737.64,302.39 738.78,302 739.93,301.63 741.08,301.26 742.24,300.9 743.41,300.55 744.57,300.2 745.74,299.87 746.91,299.55 748.08,299.23 749.25,298.92 750.42,298.62 751.59,298.32 752.75,298.03 753.92,297.75 755.08,297.47 756.26,297.2 757.43,296.95 758.61,296.72 759.8,296.53 760.98,296.37 762.17,296.22 763.36,296.08 764.55,295.96 765.75,295.84 766.94,295.74 768.14,295.64 769.34,295.54 770.54,295.45 771.74,295.35 772.94,295.26 774.14,295.16 775.34,295.06 776.53,294.95 777.73,294.84 778.92,294.71 780.11,294.58 781.29,294.43 782.47,294.26 783.65,294.08 784.83,293.87 786,293.65 787.18,293.41 788.35,293.15 789.52,292.89 790.68,292.61 791.85,292.32 793.01,292.02 794.18,291.72 795.34,291.41 796.51,291.09 797.67,290.78 798.83,290.46 799.99,290.14 801.16,289.82 802.32,289.51 803.48,289.2 804.65,288.89 805.82,288.59 806.98,288.31 808.15,288.03 809.32,287.76 810.49,287.51 811.67,287.27 812.84,287.05 814.02,286.85 815.2,286.65 816.38,286.45 817.57,286.26 818.75,286.07 819.93,285.88 821.12,285.7 822.31,285.52 823.49,285.34 824.68,285.17 825.87,285 827.06,284.83 828.25,284.66 829.44,284.5 830.63,284.34 831.82,284.19 833.02,284.03 834.21,283.89 835.4,283.74 836.59,283.6 837.79,283.46 838.98,283.32 840.17,283.19 841.37,283.06 842.56,282.94 843.76,282.82 844.95,282.7 846.14,282.59 847.34,282.48 848.53,282.38 849.73,282.28 850.93,282.2 852.13,282.11 853.33,282.03 854.53,281.96 855.73,281.89 856.93,281.82 858.13,281.75 859.33,281.68 860.53,281.61 861.73,281.54 862.93,281.47 864.13,281.4 865.33,281.32 866.53,281.24 867.73,281.16 868.92,281.07 870.12,280.98 871.31,280.88 872.5,280.77 873.69,280.65 874.88,280.53 876.06,280.39 877.24,280.22 878.42,280 879.59,279.73 880.76,279.44 881.93,279.13 883.1,278.82 884.27,278.51 885.44,278.22 886.61,277.97 887.78,277.76 888.96,277.6 890.15,277.48 891.33,277.36 892.51,277.24 893.7,277.13 894.88,277.01 896.07,276.9 897.25,276.79 898.44,276.68 899.63,276.57 900.81,276.47 902,276.37 903.19,276.26 904.38,276.17 905.57,276.07 906.76,275.97 907.95,275.88 909.14,275.79 910.33,275.7 911.52,275.61 912.72,275.53 913.91,275.45 915.11,275.37 916.3,275.29 917.5,275.21 918.69,275.14 919.89,275.07 921.09,275 922.29,274.94 923.49,274.88 924.69,274.82 925.89,274.76 927.09,274.7 928.29,274.65 929.49,274.6 930.7,274.55 931.9,274.51 933.11,274.47 934.31,274.43 935.52,274.39 936.73,274.36 937.94,274.33 939.15,274.3 940.36,274.28 941.57,274.26 942.79,274.24 944,274.23 945.22,274.22 946.43,274.21 947.65,274.2 948.87,274.2 949,274.2" fill="none" stroke="#00a3e9" stroke-width="4.3" stroke-linejoin="round" stroke-linecap="butt"/>
<polyline points="594.2,573 595.49,572.89 596.76,572.72 598,572.49 599.21,572.21 600.4,571.88 601.55,571.51 602.67,571.11 603.76,570.69 604.81,570.24 605.83,569.77 606.81,569.29 607.76,568.71 608.69,568.02 609.59,567.25 610.47,566.41 611.32,565.51 612.16,564.57 612.97,563.6 613.76,562.61 614.53,561.63 615.28,560.67 616.01,559.73 616.73,558.8 617.46,557.85 618.17,556.88 618.88,555.9 619.58,554.91 620.27,553.9 620.95,552.89 621.61,551.86 622.26,550.82 622.88,549.78 623.49,548.73 624.08,547.67 624.64,546.61 625.18,545.54 625.7,544.47 626.18,543.39 626.63,542.32 627.07,541.23 627.49,540.14 627.9,539.04 628.29,537.93 628.68,536.82 629.05,535.69 629.42,534.57 629.77,533.43 630.12,532.29 630.46,531.14 630.79,529.99 631.11,528.83 631.43,527.67 631.74,526.51 632.05,525.34 632.35,524.17 632.64,523 632.94,521.82 633.22,520.64 633.51,519.46 633.8,518.28 634.08,517.1 634.36,515.92 634.64,514.74 634.92,513.55 635.2,512.37 635.49,511.19 635.77,510.01 636.06,508.84 636.35,507.66 636.65,506.49 636.94,505.33 637.25,504.16 637.55,503 637.86,501.84 638.17,500.68 638.48,499.52 638.79,498.36 639.09,497.2 639.4,496.04 639.71,494.88 640.01,493.72 640.32,492.56 640.62,491.4 640.92,490.24 641.23,489.08 641.53,487.92 641.83,486.75 642.13,485.59 642.43,484.43 642.73,483.27 643.03,482.11 643.33,480.94 643.63,479.78 643.93,478.62 644.22,477.46 644.52,476.29 644.81,475.13 645.11,473.97 645.4,472.8 645.7,471.64 645.99,470.47 646.28,469.31 646.57,468.15 646.86,466.98 647.15,465.82 647.44,464.65 647.72,463.49 648.01,462.32 648.3,461.16 648.58,459.99 648.86,458.83 649.14,457.66 649.42,456.49 649.69,455.32 649.96,454.15 650.23,452.98 650.5,451.81 650.76,450.64 651.02,449.47 651.29,448.29 651.54,447.12 651.8,445.95 652.06,444.77 652.32,443.6 652.57,442.43 652.83,441.25 653.08,440.08 653.34,438.91 653.6,437.73 653.85,436.56 654.11,435.39 654.37,434.22 654.64,433.04 654.9,431.87 655.17,430.7 655.43,429.53 655.7,428.36 655.98,427.2 656.25,426.03 656.53,424.86 656.82,423.7 657.11,422.53 657.4,421.37 657.69,420.21 657.99,419.05 658.3,417.89 658.61,416.74 658.92,415.58 659.25,414.43 659.58,413.28 659.92,412.13 660.27,410.98 660.62,409.84 660.98,408.69 661.34,407.55 661.71,406.41 662.08,405.27 662.46,404.12 662.83,402.98 663.21,401.84 663.59,400.71 663.97,399.57 664.36,398.43 664.74,397.29 665.12,396.15 665.49,395.01 665.87,393.87 666.24,392.72 666.61,391.58 666.98,390.44 667.34,389.29 667.69,388.15 668.04,387 668.39,385.85 668.73,384.69 669.06,383.54 669.4,382.39 669.73,381.23 670.07,380.08 670.41,378.92 670.75,377.77 671.1,376.62 671.45,375.48 671.81,374.33 672.18,373.19 672.56,372.06 672.95,370.93 673.35,369.8 673.77,368.68 674.19,367.56 674.63,366.45 675.08,365.34 675.54,364.23 676,363.12 676.47,362.02 676.95,360.92 677.43,359.81 677.92,358.72 678.41,357.62 678.9,356.52 679.4,355.42 679.89,354.33 680.39,353.23 680.88,352.14 681.37,351.04 681.86,349.94 682.34,348.84 682.81,347.73 683.27,346.61 683.74,345.49 684.2,344.36 684.67,343.24 685.13,342.12 685.61,341 686.09,339.89 686.58,338.79 687.08,337.69 687.6,336.61 688.13,335.54 688.68,334.49 689.25,333.46 689.84,332.45 690.46,331.46 691.12,330.49 691.82,329.54 692.56,328.6 693.34,327.69 694.14,326.78 694.95,325.88 695.79,324.99 696.62,324.11 697.46,323.23 698.29,322.36 699.11,321.48 699.92,320.59 700.73,319.69 701.55,318.78 702.36,317.87 703.18,316.96 704,316.05 704.83,315.17 705.68,314.29 706.53,313.45 707.4,312.62 708.28,311.84 709.19,311.09 710.11,310.38 711.06,309.71 712.03,309.07 713.02,308.44 714.04,307.83 715.07,307.23 716.12,306.65 717.19,306.09 718.27,305.54 719.36,305 720.46,304.47 721.57,303.96 722.68,303.46 723.8,302.97 724.92,302.5 726.04,302.03 727.16,301.57 728.27,301.13 729.38,300.69 730.49,300.26 731.61,299.84 732.74,299.43 733.86,299.03 735,298.64 736.13,298.26 737.27,297.88 738.42,297.52 739.57,297.15 740.72,296.8 741.87,296.45 743.02,296.1 744.18,295.76 745.33,295.42 746.49,295.08 747.65,294.75 748.8,294.42 749.96,294.1 751.11,293.77 752.26,293.44 753.42,293.1 754.57,292.75 755.73,292.4 756.88,292.05 758.04,291.7 759.2,291.35 760.35,291 761.51,290.65 762.67,290.3 763.83,289.97 764.99,289.64 766.16,289.32 767.32,289.02 768.49,288.72 769.66,288.44 770.83,288.18 772,287.93 773.17,287.7 774.34,287.5 775.52,287.31 776.7,287.15 777.87,287.01 779.06,286.9 780.24,286.79 781.43,286.69 782.62,286.59 783.81,286.5 785.01,286.42 786.2,286.34 787.4,286.27 788.6,286.2 789.8,286.13 791,286.06 792.21,286 793.41,285.94 794.61,285.87 795.82,285.81 797.02,285.75 798.22,285.68 799.42,285.62 800.62,285.55 801.82,285.48 803.02,285.4 804.24,285.32 805.49,285.24 806.78,285.16 808.11,285.08 809.46,284.99 810.85,284.91 812.26,284.82 813.7,284.74 815.16,284.65 816.64,284.56 818.14,284.48 819.67,284.39 821.2,284.3 822.75,284.21 824.32,284.12 825.89,284.03 827.47,283.94 829.06,283.85 830.66,283.76 832.25,283.67 833.85,283.58 835.44,283.49 837.03,283.39 838.62,283.3 840.2,283.21 841.77,283.12 843.33,283.03 844.88,282.94 846.41,282.85 847.92,282.76 849.42,282.67 850.89,282.58 852.34,282.49 853.77,282.4 855.17,282.32 856.55,282.23 857.89,282.14 859.2,282.06 860.48,281.97 861.72,281.89 862.92,281.81 864.08,281.72 865.2,281.64 866.28,281.56 867.31,281.48 868.29,281.4 869.23,281.33 870.11,281.25 870.94,281.18 871.71,281.1 872.42,281.03 873.08,280.96 873.68,280.89 874.21,280.83 874.67,280.76 875.07,280.69 875.4,280.63 875.66,280.57 875.85,280.51 875.96,280.45 876,280.4 875.85,280.34 875.43,280.29 874.78,280.23 873.9,280.18 872.84,280.12 871.6,280.06 870.21,280.01 868.69,279.96 867.08,279.9 865.38,279.85 863.63,279.8 861.84,279.75 860.04,279.7 858.26,279.65 856.51,279.61 854.81,279.57 853.2,279.53 851.7,279.49 850.32,279.45 849.09,279.42 848.03,279.39 847.17,279.36 846.53,279.34 846.13,279.32 846,279.3 846.08,279.28 846.31,279.27 846.68,279.26 847.18,279.25 847.81,279.24 848.57,279.22 849.44,279.22 850.41,279.21 851.49,279.2 852.66,279.19 853.92,279.18 855.26,279.18 856.68,279.17 858.17,279.17 859.71,279.16 861.31,279.16 862.96,279.15 864.65,279.15 866.38,279.14 868.13,279.14 869.91,279.14 871.7,279.13 873.49,279.13 875.29,279.13 877.09,279.12 878.87,279.12 880.63,279.11 882.37,279.11 884.08,279.1 885.75,279.1 887.37,279.09 888.94,279.08 890.46,279.08 891.91,279.07 893.28,279.06 894.58,279.05 895.79,279.04 896.91,279.03 897.94,279.02 898.85,279.01 899.66,278.99 900.35,278.98 900.91,278.96 901.34,278.95 901.63,278.93 901.78,278.91 901.71,278.88 901.11,278.79 900.03,278.64 898.61,278.44 896.95,278.21 895.19,277.96 893.44,277.7 891.83,277.44 890.47,277.21 889.5,277 889.03,276.84 889.06,276.71 889.31,276.59 889.77,276.47 890.4,276.35 891.21,276.23 892.16,276.11 893.24,275.99 894.44,275.88 895.75,275.77 897.14,275.67 898.6,275.57 900.12,275.48 901.69,275.39 903.27,275.32 904.87,275.24 906.46,275.18 908.02,275.13 909.55,275.08 911.03,275.04 912.44,275.02 913.77,275 914.99,275 916.19,275 917.39,275 918.59,275 919.79,275 920.99,275 922.19,275 923.39,275 924.59,275 925.78,275 926.98,275 928.18,275 929.38,275 930.58,275 931.78,275 932.98,275 934.18,275 935.38,275 936.58,275 937.78,275 938.98,275 940.19,275 941.39,275 942.59,275 943.79,275 944.99,275 946.19,275 947.39,275 948.59,275 949,275" fill="none" stroke="#009a4a" stroke-width="4.3" stroke-linejoin="round" stroke-linecap="butt"/>
<g transform="translate(70.88 583.8)"><text x="0" y="0" font-size="27.3" letter-spacing="0.4" fill="#231f20" stroke="#231f20" stroke-width="0.35">0</text></g>
<g transform="translate(548.48 584.7)"><text x="0" y="0" font-size="27.3" letter-spacing="0.4" fill="#231f20" stroke="#231f20" stroke-width="0.35">0</text></g>
<g transform="translate(47.62 523.88)"><text x="0" y="0" font-size="27.3" letter-spacing="0.4" fill="#231f20" stroke="#231f20" stroke-width="0.35">0.2</text></g>
<g transform="translate(525.22 524.8)"><text x="0" y="0" font-size="27.3" letter-spacing="0.4" fill="#231f20" stroke="#231f20" stroke-width="0.35">0.2</text></g>
<g transform="translate(47.05 463.96)"><text x="0" y="0" font-size="27.3" letter-spacing="0.4" fill="#231f20" stroke="#231f20" stroke-width="0.35">0.4</text></g>
<g transform="translate(524.65 464.9)"><text x="0" y="0" font-size="27.3" letter-spacing="0.4" fill="#231f20" stroke="#231f20" stroke-width="0.35">0.4</text></g>
<g transform="translate(47.45 404.04)"><text x="0" y="0" font-size="27.3" letter-spacing="0.4" fill="#231f20" stroke="#231f20" stroke-width="0.35">0.6</text></g>
<g transform="translate(525.05 405)"><text x="0" y="0" font-size="27.3" letter-spacing="0.4" fill="#231f20" stroke="#231f20" stroke-width="0.35">0.6</text></g>
<g transform="translate(47.44 344.12)"><text x="0" y="0" font-size="27.3" letter-spacing="0.4" fill="#231f20" stroke="#231f20" stroke-width="0.35">0.8</text></g>
<g transform="translate(525.04 345.1)"><text x="0" y="0" font-size="27.3" letter-spacing="0.4" fill="#231f20" stroke="#231f20" stroke-width="0.35">0.8</text></g>
<g transform="translate(47.32 284.2)"><text x="0" y="0" font-size="27.3" letter-spacing="0.4" fill="#231f20" stroke="#231f20" stroke-width="0.35"> .0</text><path transform="translate(0 0) scale(27.3 -27.3)" d="M0.2847 0 L0.3726 0 L0.3726 0.688 L0.3154 0.688 Q0.2925 0.643 0.2373 0.596 Q0.1821 0.549 0.1084 0.516 L0.1084 0.4347 Q0.1494 0.449 0.2012 0.478 Q0.2529 0.507 0.2847 0.536 Z" fill="#231f20" stroke="#231f20" stroke-width="0.35" vector-effect="non-scaling-stroke"/></g>
<g transform="translate(524.92 285.2)"><text x="0" y="0" font-size="27.3" letter-spacing="0.4" fill="#231f20" stroke="#231f20" stroke-width="0.35"> .0</text><path transform="translate(0 0) scale(27.3 -27.3)" d="M0.2847 0 L0.3726 0 L0.3726 0.688 L0.3154 0.688 Q0.2925 0.643 0.2373 0.596 Q0.1821 0.549 0.1084 0.516 L0.1084 0.4347 Q0.1494 0.449 0.2012 0.478 Q0.2529 0.507 0.2847 0.536 Z" fill="#231f20" stroke="#231f20" stroke-width="0.35" vector-effect="non-scaling-stroke"/></g>
<g transform="translate(94.63 608.4)"><text x="0" y="0" font-size="27.6" letter-spacing="0" fill="#231f20" stroke="#231f20" stroke-width="0.35">0</text></g>
<g transform="translate(165.72 608.4)"><text x="0" y="0" font-size="27.6" letter-spacing="0" fill="#231f20" stroke="#231f20" stroke-width="0.35">200</text></g>
<g transform="translate(252.2 608.4)"><text x="0" y="0" font-size="27.6" letter-spacing="0" fill="#231f20" stroke="#231f20" stroke-width="0.35">400</text></g>
<g transform="translate(337.81 608.4)"><text x="0" y="0" font-size="27.6" letter-spacing="0" fill="#231f20" stroke="#231f20" stroke-width="0.35">600</text></g>
<g transform="translate(424.11 608.4)"><text x="0" y="0" font-size="27.6" letter-spacing="0" fill="#231f20" stroke="#231f20" stroke-width="0.35">800</text></g>
<g transform="translate(573.33 608.9)"><text x="0" y="0" font-size="27.6" letter-spacing="0" fill="#231f20" stroke="#231f20" stroke-width="0.35">0</text></g>
<g transform="translate(688.9 608.9)"><text x="0" y="0" font-size="27.6" letter-spacing="0" fill="#231f20" stroke="#231f20" stroke-width="0.35">20</text></g>
<g transform="translate(814.67 608.9)"><text x="0" y="0" font-size="27.6" letter-spacing="0" fill="#231f20" stroke="#231f20" stroke-width="0.35">40</text></g>
<g transform="translate(939.39 608.9)"><text x="0" y="0" font-size="27.6" letter-spacing="0" fill="#231f20" stroke="#231f20" stroke-width="0.35">60</text></g>
<g transform="translate(122.27 642.44)"><text x="0" y="0" font-size="30.7" letter-spacing="-0.1" fill="#231f20" stroke="#231f20" stroke-width="0.35">Interevent Interval (ms)</text></g>
<g transform="translate(680.04 639.83)"><text x="0" y="0" font-size="31.65" letter-spacing="-0.38" fill="#231f20" stroke="#231f20" stroke-width="0.35">Amplitude (pA)</text></g>
<g transform="translate(37 586.92) rotate(-90)"><text x="0" y="0" font-size="32" letter-spacing="-0.63" fill="#231f20" stroke="#231f20" stroke-width="0.35">Cumulative Probability</text></g>
<g transform="translate(514.8 587.23) rotate(-90)"><text x="0" y="0" font-size="32" letter-spacing="-0.63" fill="#231f20" stroke="#231f20" stroke-width="0.35">Cumulative Probability</text></g>
<line x1="257.4" y1="473.1" x2="273.1" y2="473.1" stroke="#000000" stroke-width="5"/>
<line x1="257.4" y1="502.6" x2="273.1" y2="502.6" stroke="#00a3e9" stroke-width="5"/>
<line x1="257.4" y1="531.3" x2="273.1" y2="531.3" stroke="#009a4a" stroke-width="5"/>
<g transform="translate(281.99 481.55)"><text x="0" y="0" font-size="25.74" letter-spacing="0.61" fill="#231f20" stroke="#231f20" stroke-width="0.35">Control</text></g>
<g transform="translate(282.52 511.23)"><text x="0" y="0" font-size="27.4" letter-spacing="-0.54" fill="#231f20" stroke="#231f20" stroke-width="0.35">GLP- </text><path transform="translate(61.78 0) scale(27.4 -27.4)" d="M0.2847 0 L0.3726 0 L0.3726 0.688 L0.3154 0.688 Q0.2925 0.643 0.2373 0.596 Q0.1821 0.549 0.1084 0.516 L0.1084 0.4347 Q0.1494 0.449 0.2012 0.478 Q0.2529 0.507 0.2847 0.536 Z" fill="#231f20" stroke="#231f20" stroke-width="0.35" vector-effect="non-scaling-stroke"/></g>
<g transform="translate(283.19 540.95)"><text x="0" y="0" font-size="25.19" letter-spacing="0.51" fill="#231f20" stroke="#231f20" stroke-width="0.35">Washout</text></g>
<line x1="791.2" y1="467.8" x2="807.2" y2="467.8" stroke="#000000" stroke-width="5"/>
<line x1="791.2" y1="497.1" x2="807.2" y2="497.1" stroke="#00a3e9" stroke-width="5"/>
<line x1="791.2" y1="526" x2="807.2" y2="526" stroke="#009a4a" stroke-width="5"/>
<g transform="translate(815.76 475.74)"><text x="0" y="0" font-size="26.42" letter-spacing="0.24" fill="#231f20" stroke="#231f20" stroke-width="0.35">Control</text></g>
<g transform="translate(816.33 505.33)"><text x="0" y="0" font-size="27.26" letter-spacing="-0.37" fill="#231f20" stroke="#231f20" stroke-width="0.35">GLP- </text><path transform="translate(62.14 0) scale(27.26 -27.26)" d="M0.2847 0 L0.3726 0 L0.3726 0.688 L0.3154 0.688 Q0.2925 0.643 0.2373 0.596 Q0.1821 0.549 0.1084 0.516 L0.1084 0.4347 Q0.1494 0.449 0.2012 0.478 Q0.2529 0.507 0.2847 0.536 Z" fill="#231f20" stroke="#231f20" stroke-width="0.35" vector-effect="non-scaling-stroke"/></g>
<g transform="translate(816.98 535.94)"><text x="0" y="0" font-size="26.28" letter-spacing="-0.15" fill="#231f20" stroke="#231f20" stroke-width="0.35">Washout</text></g>
<line x1="98" y1="1083.4" x2="467.5" y2="1083.4" stroke="#2e2624" stroke-width="4.8"/>
<line x1="108.7" y1="730.9" x2="108.7" y2="1089.4" stroke="#2e2624" stroke-width="4.5"/>
<line x1="97.7" y1="1083.4" x2="108.7" y2="1083.4" stroke="#2e2624" stroke-width="4.5"/>
<line x1="97.7" y1="966.03" x2="108.7" y2="966.03" stroke="#2e2624" stroke-width="4.5"/>
<line x1="97.7" y1="848.67" x2="108.7" y2="848.67" stroke="#2e2624" stroke-width="4.5"/>
<line x1="97.7" y1="731.3" x2="108.7" y2="731.3" stroke="#2e2624" stroke-width="4.5"/>
<rect x="134.7" y="850.9" width="86.3" height="230.5" fill="#fdfdfd" stroke="#2e2624" stroke-width="4.6"/>
<rect x="242.7" y="822" width="86.7" height="259.4" fill="#00a3e9" stroke="#2e2624" stroke-width="4.6"/>
<rect x="351.8" y="850.2" width="86.2" height="231.2" fill="#009a4a" stroke="#2e2624" stroke-width="4.6"/>
<path d="M178.1 843.5 V858 M173.1 843.5 H183.1 M173.1 858 H183.1" stroke="#2e2624" stroke-width="4.2" stroke-linecap="round" fill="none"/>
<path d="M286.4 811.2 V832.1 M281.4 811.2 H291.4 M281.4 832.1 H291.4" stroke="#2e2624" stroke-width="4.2" stroke-linecap="round" fill="none"/>
<path d="M394.8 842 V858.1 M389.8 842 H399.8 M389.8 858.1 H399.8" stroke="#2e2624" stroke-width="4.2" stroke-linecap="round" fill="none"/>
<path d="M177.1 809.8 L182.3 819 L171.9 819 Z" fill="#fff" stroke="#2e2624" stroke-width="2.6" stroke-linejoin="round"/>
<path d="M170.6 829.6 L161.4 824.4 L161.4 834.8 Z" fill="#fff" stroke="#2e2624" stroke-width="2.6" stroke-linejoin="round"/>
<path d="M187.2 830.7 L192.9 836 L187.2 841.3 L181.5 836 Z" fill="#fff" stroke="#2e2624" stroke-width="2.6" stroke-linejoin="round"/>
<rect x="188.75" y="843.95" width="6.9" height="6.9" fill="#fff" stroke="#2e2624" stroke-width="2.6" stroke-linejoin="round" stroke-linejoin="miter"/>
<path d="M183.7 864.7 L192.9 859.5 L192.9 869.9 Z" fill="#fff" stroke="#2e2624" stroke-width="2.6" stroke-linejoin="round"/>
<path d="M165.5 862 L160.91 864.65 L160.91 869.95 L165.5 872.6 L170.09 869.95 L170.09 864.65 Z" fill="#fff" stroke="#2e2624" stroke-width="2.6" stroke-linejoin="round"/>
<circle cx="177" cy="878.6" r="4.3" fill="#fff" stroke="#2e2624" stroke-width="2.6" stroke-linejoin="round"/>
<path d="M292 770.4 L297.2 779.6 L286.8 779.6 Z" fill="#fff" stroke="#2e2624" stroke-width="2.6" stroke-linejoin="round"/>
<rect x="273.15" y="784.75" width="6.9" height="6.9" fill="#fff" stroke="#2e2624" stroke-width="2.6" stroke-linejoin="round" stroke-linejoin="miter"/>
<path d="M300.3 799.3 L291.1 794.1 L291.1 804.5 Z" fill="#fff" stroke="#2e2624" stroke-width="2.6" stroke-linejoin="round"/>
<path d="M273.8 825.4 L283 820.2 L283 830.6 Z" fill="#fff" stroke="#2e2624" stroke-width="2.6" stroke-linejoin="round"/>
<path d="M298.2 822.6 L303.9 827.9 L298.2 833.2 L292.5 827.9 Z" fill="#fff" stroke="#2e2624" stroke-width="2.6" stroke-linejoin="round"/>
<circle cx="285.8" cy="860.1" r="4.3" fill="#fff" stroke="#2e2624" stroke-width="2.6" stroke-linejoin="round"/>
<path d="M298.7 849.8 L294.11 852.45 L294.11 857.75 L298.7 860.4 L303.29 857.75 L303.29 852.45 Z" fill="#fff" stroke="#2e2624" stroke-width="2.6" stroke-linejoin="round"/>
<path d="M395.6 805.2 L400.8 814.4 L390.4 814.4 Z" fill="#fff" stroke="#2e2624" stroke-width="2.6" stroke-linejoin="round"/>
<path d="M387.1 827.1 L377.9 821.9 L377.9 832.3 Z" fill="#fff" stroke="#2e2624" stroke-width="2.6" stroke-linejoin="round"/>
<path d="M413 833.6 L418.7 838.9 L413 844.2 L407.3 838.9 Z" fill="#fff" stroke="#2e2624" stroke-width="2.6" stroke-linejoin="round"/>
<rect x="376.55" y="839.15" width="6.9" height="6.9" fill="#fff" stroke="#2e2624" stroke-width="2.6" stroke-linejoin="round" stroke-linejoin="miter"/>
<path d="M380.2 859.3 L375.61 861.95 L375.61 867.25 L380.2 869.9 L384.79 867.25 L384.79 861.95 Z" fill="#fff" stroke="#2e2624" stroke-width="2.6" stroke-linejoin="round"/>
<path d="M394.5 867.2 L403.7 862 L403.7 872.4 Z" fill="#fff" stroke="#2e2624" stroke-width="2.6" stroke-linejoin="round"/>
<circle cx="395.6" cy="881.7" r="4.3" fill="#fff" stroke="#2e2624" stroke-width="2.6" stroke-linejoin="round"/>
<path d="M286.6 747.9 L286.6 740.9 M286.6 747.9 L293.26 745.74 M286.6 747.9 L290.71 753.56 M286.6 747.9 L282.49 753.56 M286.6 747.9 L279.94 745.74" stroke="#000" stroke-width="3" fill="none"/>
<g transform="translate(77.64 1093.03)"><text x="0" y="0" font-size="26.8" letter-spacing="1.1" fill="#000000" stroke="#000000" stroke-width="0.35">0</text></g>
<g transform="translate(61.64 975.66)"><text x="0" y="0" font-size="26.8" letter-spacing="1.1" fill="#000000" stroke="#000000" stroke-width="0.35">50</text></g>
<g transform="translate(45.63 858.29)"><text x="0" y="0" font-size="26.8" letter-spacing="1.1" fill="#000000" stroke="#000000" stroke-width="0.35"> 00</text><path transform="translate(0 0) scale(26.8 -26.8)" d="M0.2847 0 L0.3726 0 L0.3726 0.688 L0.3154 0.688 Q0.2925 0.643 0.2373 0.596 Q0.1821 0.549 0.1084 0.516 L0.1084 0.4347 Q0.1494 0.449 0.2012 0.478 Q0.2529 0.507 0.2847 0.536 Z" fill="#000000" stroke="#000000" stroke-width="0.35" vector-effect="non-scaling-stroke"/></g>
<g transform="translate(45.63 740.93)"><text x="0" y="0" font-size="26.8" letter-spacing="1.1" fill="#000000" stroke="#000000" stroke-width="0.35"> 50</text><path transform="translate(0 0) scale(26.8 -26.8)" d="M0.2847 0 L0.3726 0 L0.3726 0.688 L0.3154 0.688 Q0.2925 0.643 0.2373 0.596 Q0.1821 0.549 0.1084 0.516 L0.1084 0.4347 Q0.1494 0.449 0.2012 0.478 Q0.2529 0.507 0.2847 0.536 Z" fill="#000000" stroke="#000000" stroke-width="0.35" vector-effect="non-scaling-stroke"/></g>
<g transform="translate(34 1064.51) rotate(-90)"><text x="0" y="0" font-size="33" letter-spacing="0.37" fill="#231f20" stroke="#231f20" stroke-width="0.35">Norm. frequency (%)</text></g>
<g transform="translate(166.6 1103.8) rotate(45)"><text x="0" y="0" font-size="26.2" letter-spacing="1.9" fill="#000000" stroke="#000000" stroke-width="0.35">Control</text></g>
<g transform="translate(275.8 1105) rotate(45)"><text x="0" y="0" font-size="26.2" letter-spacing="2.6" fill="#000000" stroke="#000000" stroke-width="0.35">GLP- </text><path transform="translate(71.55 0) scale(26.2 -26.2)" d="M0.2847 0 L0.3726 0 L0.3726 0.688 L0.3154 0.688 Q0.2925 0.643 0.2373 0.596 Q0.1821 0.549 0.1084 0.516 L0.1084 0.4347 Q0.1494 0.449 0.2012 0.478 Q0.2529 0.507 0.2847 0.536 Z" fill="#000000" stroke="#000000" stroke-width="0.35" vector-effect="non-scaling-stroke"/></g>
<g transform="translate(386.9 1103) rotate(45)"><text x="0" y="0" font-size="26.2" letter-spacing="1.9" fill="#000000" stroke="#000000" stroke-width="0.35">Washout</text></g>
<line x1="568.4" y1="1070.4" x2="954" y2="1070.4" stroke="#2e2624" stroke-width="4.6"/>
<line x1="578.8" y1="715.8" x2="578.8" y2="1076" stroke="#2e2624" stroke-width="4.5"/>
<line x1="568.6" y1="1070.4" x2="578.8" y2="1070.4" stroke="#2e2624" stroke-width="4.5"/>
<line x1="568.6" y1="952.33" x2="578.8" y2="952.33" stroke="#2e2624" stroke-width="4.5"/>
<line x1="568.6" y1="834.27" x2="578.8" y2="834.27" stroke="#2e2624" stroke-width="4.5"/>
<line x1="568.6" y1="716.2" x2="578.8" y2="716.2" stroke="#2e2624" stroke-width="4.5"/>
<rect x="597.1" y="833.6" width="93.1" height="234.8" fill="#fdfdfd" stroke="#2e2624" stroke-width="4.6"/>
<rect x="714.2" y="832" width="93.8" height="236.4" fill="#00a3e9" stroke="#2e2624" stroke-width="4.6"/>
<rect x="831.7" y="832.5" width="93.6" height="235.9" fill="#009a4a" stroke="#2e2624" stroke-width="4.6"/>
<path d="M643.8 824.5 V842.3 M638.8 824.5 H648.8 M638.8 842.3 H648.8" stroke="#2e2624" stroke-width="4.2" stroke-linecap="round" fill="none"/>
<path d="M760.9 822.4 V841 M755.9 822.4 H765.9 M755.9 841 H765.9" stroke="#2e2624" stroke-width="4.2" stroke-linecap="round" fill="none"/>
<path d="M878.3 823.9 V841 M873.3 823.9 H883.3 M873.3 841 H883.3" stroke="#2e2624" stroke-width="4.2" stroke-linecap="round" fill="none"/>
<rect x="640.15" y="785.15" width="6.9" height="6.9" fill="#fff" stroke="#2e2624" stroke-width="2.6" stroke-linejoin="round" stroke-linejoin="miter"/>
<path d="M629.5 813.1 L634.7 822.3 L624.3 822.3 Z" fill="#fff" stroke="#2e2624" stroke-width="2.6" stroke-linejoin="round"/>
<path d="M666.3 817.1 L657.1 811.9 L657.1 822.3 Z" fill="#fff" stroke="#2e2624" stroke-width="2.6" stroke-linejoin="round"/>
<path d="M654 833.3 L663.2 828.1 L663.2 838.5 Z" fill="#fff" stroke="#2e2624" stroke-width="2.6" stroke-linejoin="round"/>
<path d="M643.7 847.1 L649.4 852.4 L643.7 857.7 L638 852.4 Z" fill="#fff" stroke="#2e2624" stroke-width="2.6" stroke-linejoin="round"/>
<path d="M658.8 844.8 L654.21 847.45 L654.21 852.75 L658.8 855.4 L663.39 852.75 L663.39 847.45 Z" fill="#fff" stroke="#2e2624" stroke-width="2.6" stroke-linejoin="round"/>
<circle cx="643.6" cy="868.7" r="4.3" fill="#fff" stroke="#2e2624" stroke-width="2.6" stroke-linejoin="round"/>
<rect x="758.55" y="780.15" width="6.9" height="6.9" fill="#fff" stroke="#2e2624" stroke-width="2.6" stroke-linejoin="round" stroke-linejoin="miter"/>
<path d="M756.7 809.6 L747.5 804.4 L747.5 814.8 Z" fill="#fff" stroke="#2e2624" stroke-width="2.6" stroke-linejoin="round"/>
<path d="M777.5 815.4 L782.7 824.6 L772.3 824.6 Z" fill="#fff" stroke="#2e2624" stroke-width="2.6" stroke-linejoin="round"/>
<path d="M743 836 L752.2 830.8 L752.2 841.2 Z" fill="#fff" stroke="#2e2624" stroke-width="2.6" stroke-linejoin="round"/>
<path d="M746.8 840.6 L742.21 843.25 L742.21 848.55 L746.8 851.2 L751.39 848.55 L751.39 843.25 Z" fill="#fff" stroke="#2e2624" stroke-width="2.6" stroke-linejoin="round"/>
<path d="M777.2 844.6 L782.9 849.9 L777.2 855.2 L771.5 849.9 Z" fill="#fff" stroke="#2e2624" stroke-width="2.6" stroke-linejoin="round"/>
<circle cx="762" cy="871.1" r="4.3" fill="#fff" stroke="#2e2624" stroke-width="2.6" stroke-linejoin="round"/>
<rect x="877.05" y="782.05" width="6.9" height="6.9" fill="#fff" stroke="#2e2624" stroke-width="2.6" stroke-linejoin="round" stroke-linejoin="miter"/>
<path d="M898 814.3 L888.8 809.1 L888.8 819.5 Z" fill="#fff" stroke="#2e2624" stroke-width="2.6" stroke-linejoin="round"/>
<path d="M865.1 817.3 L870.3 826.5 L859.9 826.5 Z" fill="#fff" stroke="#2e2624" stroke-width="2.6" stroke-linejoin="round"/>
<path d="M888 830.8 L897.2 825.6 L897.2 836 Z" fill="#fff" stroke="#2e2624" stroke-width="2.6" stroke-linejoin="round"/>
<path d="M874 845.2 L879.7 850.5 L874 855.8 L868.3 850.5 Z" fill="#fff" stroke="#2e2624" stroke-width="2.6" stroke-linejoin="round"/>
<path d="M894.2 842.2 L889.61 844.85 L889.61 850.15 L894.2 852.8 L898.79 850.15 L898.79 844.85 Z" fill="#fff" stroke="#2e2624" stroke-width="2.6" stroke-linejoin="round"/>
<circle cx="880.4" cy="864.2" r="4.3" fill="#fff" stroke="#2e2624" stroke-width="2.6" stroke-linejoin="round"/>
<g transform="translate(550.14 1082.13)"><text x="0" y="0" font-size="26.8" letter-spacing="1.1" fill="#000000" stroke="#000000" stroke-width="0.35">0</text></g>
<g transform="translate(534.14 964.06)"><text x="0" y="0" font-size="26.8" letter-spacing="1.1" fill="#000000" stroke="#000000" stroke-width="0.35">50</text></g>
<g transform="translate(518.13 845.99)"><text x="0" y="0" font-size="26.8" letter-spacing="1.1" fill="#000000" stroke="#000000" stroke-width="0.35"> 00</text><path transform="translate(0 0) scale(26.8 -26.8)" d="M0.2847 0 L0.3726 0 L0.3726 0.688 L0.3154 0.688 Q0.2925 0.643 0.2373 0.596 Q0.1821 0.549 0.1084 0.516 L0.1084 0.4347 Q0.1494 0.449 0.2012 0.478 Q0.2529 0.507 0.2847 0.536 Z" fill="#000000" stroke="#000000" stroke-width="0.35" vector-effect="non-scaling-stroke"/></g>
<g transform="translate(518.13 727.93)"><text x="0" y="0" font-size="26.8" letter-spacing="1.1" fill="#000000" stroke="#000000" stroke-width="0.35"> 50</text><path transform="translate(0 0) scale(26.8 -26.8)" d="M0.2847 0 L0.3726 0 L0.3726 0.688 L0.3154 0.688 Q0.2925 0.643 0.2373 0.596 Q0.1821 0.549 0.1084 0.516 L0.1084 0.4347 Q0.1494 0.449 0.2012 0.478 Q0.2529 0.507 0.2847 0.536 Z" fill="#000000" stroke="#000000" stroke-width="0.35" vector-effect="non-scaling-stroke"/></g>
<g transform="translate(508.3 1053.61) rotate(-90)"><text x="0" y="0" font-size="33" letter-spacing="0.26" fill="#231f20" stroke="#231f20" stroke-width="0.35">Norm. Amplitude (%)</text></g>
<g transform="translate(625.1 1087.8) rotate(45)"><text x="0" y="0" font-size="26.2" letter-spacing="1.9" fill="#000000" stroke="#000000" stroke-width="0.35">Control</text></g>
<g transform="translate(733.9 1088.6) rotate(45)"><text x="0" y="0" font-size="26.2" letter-spacing="2.6" fill="#000000" stroke="#000000" stroke-width="0.35">GLP- </text><path transform="translate(71.55 0) scale(26.2 -26.2)" d="M0.2847 0 L0.3726 0 L0.3726 0.688 L0.3154 0.688 Q0.2925 0.643 0.2373 0.596 Q0.1821 0.549 0.1084 0.516 L0.1084 0.4347 Q0.1494 0.449 0.2012 0.478 Q0.2529 0.507 0.2847 0.536 Z" fill="#000000" stroke="#000000" stroke-width="0.35" vector-effect="non-scaling-stroke"/></g>
<g transform="translate(844.7 1087.1) rotate(45)"><text x="0" y="0" font-size="26.2" letter-spacing="1.9" fill="#000000" stroke="#000000" stroke-width="0.35">Washout</text></g>
</svg>
</body></html>
